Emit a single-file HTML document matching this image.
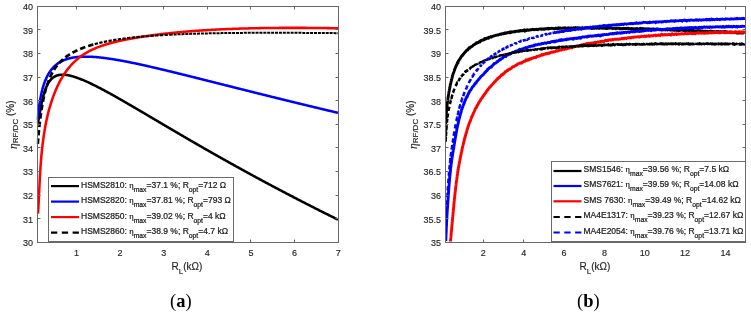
<!DOCTYPE html>
<html><head><meta charset="utf-8"><style>
html,body{margin:0;padding:0;background:#fff;width:751px;height:313px;overflow:hidden}
svg{display:block}
</style></head><body>
<svg width="751" height="313" viewBox="0 0 751 313">
<defs>
<clipPath id="ca"><rect x="36.5" y="6" width="302.5" height="237"/></clipPath>
<clipPath id="cb"><rect x="445" y="6" width="301" height="237"/></clipPath>
</defs>
<rect width="751" height="313" fill="#fff"/>
<!-- plot a -->
<g fill="none" stroke-linejoin="round" clip-path="url(#ca)">
<path d="M37.60,123.08 L37.83,122.51 L38.02,121.92 L38.17,121.32 L38.32,120.72 L38.45,120.11 L38.58,119.51 L38.70,118.90 L38.82,118.29 L38.94,117.68 L39.05,117.07 L39.16,116.46 L39.27,115.85 L39.38,115.24 L39.49,114.63 L39.60,114.02 L39.71,113.41 L39.82,112.80 L39.93,112.19 L40.04,111.58 L40.14,110.97 L40.25,110.36 L40.36,109.75 L40.47,109.15 L40.59,108.54 L40.70,107.93 L40.81,107.32 L40.93,106.71 L41.04,106.10 L41.16,105.49 L41.28,104.88 L41.40,104.28 L41.52,103.67 L41.65,103.06 L41.77,102.46 L41.90,101.85 L42.03,101.24 L42.17,100.64 L42.30,100.03 L42.44,99.43 L42.58,98.83 L42.73,98.23 L42.88,97.62 L43.03,97.02 L43.19,96.42 L43.35,95.83 L43.51,95.23 L43.68,94.63 L43.85,94.04 L44.03,93.44 L44.21,92.85 L44.40,92.26 L44.59,91.67 L44.79,91.08 L44.99,90.50 L45.20,89.91 L45.41,89.33 L45.63,88.75 L45.86,88.18 L46.10,87.61 L46.34,87.04 L46.59,86.47 L46.85,85.91 L47.12,85.35 L47.40,84.79 L47.68,84.25 L47.98,83.70 L48.29,83.17 L48.61,82.64 L48.95,82.11 L49.29,81.60 L49.65,81.10 L50.03,80.61 L50.42,80.12 L50.83,79.66 L51.25,79.20 L51.69,78.77 L52.14,78.34 L52.61,77.94 L53.10,77.56 L53.60,77.20 L54.12,76.86 L54.66,76.54 L55.20,76.25 L55.76,75.99 L56.33,75.75 L56.91,75.53 L57.50,75.34 L58.10,75.18 L58.71,75.04 L59.31,74.92 L59.93,74.83 L60.54,74.76 L61.16,74.71 L61.78,74.68 L62.40,74.67 L63.02,74.67 L63.64,74.69 L64.25,74.73 L64.87,74.78 L65.49,74.84 L66.10,74.92 L66.72,75.01 L67.33,75.11 L67.94,75.22 L68.55,75.34 L69.15,75.46 L69.76,75.60 L70.36,75.74 L70.96,75.90 L71.56,76.05 L72.16,76.22 L72.75,76.39 L73.35,76.56 L73.94,76.75 L74.53,76.93 L75.12,77.12 L75.71,77.32 L76.29,77.52 L76.88,77.72 L77.46,77.93 L78.04,78.14 L78.63,78.35 L79.21,78.57 L79.78,78.79 L80.36,79.02 L80.94,79.24 L81.51,79.47 L82.09,79.71 L82.66,79.94 L83.23,80.18 L83.80,80.42 L84.37,80.66 L84.94,80.91 L85.51,81.15 L86.08,81.40 L86.64,81.66 L87.21,81.91 L87.77,82.17 L88.34,82.42 L88.90,82.68 L89.46,82.94 L90.02,83.21 L90.58,83.47 L91.14,83.74 L91.70,84.00 L92.26,84.27 L92.82,84.54 L93.37,84.81 L93.93,85.09 L94.49,85.36 L95.04,85.64 L95.59,85.92 L96.15,86.19 L96.70,86.47 L97.25,86.75 L97.81,87.03 L98.36,87.32 L98.91,87.60 L99.46,87.89 L100.01,88.17 L100.56,88.46 L101.11,88.75 L101.65,89.03 L102.20,89.32 L102.75,89.61 L103.30,89.90 L103.84,90.20 L104.39,90.49 L104.94,90.78 L105.48,91.08 L106.03,91.37 L106.57,91.67 L107.11,91.96 L107.66,92.26 L108.20,92.55 L108.75,92.85 L109.29,93.15 L109.83,93.45 L110.37,93.75 L110.92,94.05 L111.46,94.35 L112.00,94.65 L112.54,94.95 L113.08,95.26 L113.62,95.56 L114.16,95.86 L114.70,96.16 L115.24,96.47 L115.78,96.77 L116.32,97.08 L116.86,97.38 L117.40,97.69 L117.94,97.99 L118.48,98.30 L119.01,98.61 L119.55,98.91 L120.09,99.22 L120.63,99.53 L121.17,99.84 L121.70,100.14 L122.24,100.45 L122.78,100.76 L123.32,101.07 L123.85,101.38 L124.39,101.69 L124.93,102.00 L125.46,102.31 L126.00,102.62 L126.53,102.93 L127.07,103.24 L127.61,103.55 L128.14,103.86 L128.68,104.17 L129.21,104.48 L129.75,104.80 L130.28,105.11 L130.82,105.42 L131.35,105.73 L131.89,106.04 L132.42,106.36 L132.96,106.67 L133.49,106.98 L134.03,107.30 L134.56,107.61 L135.10,107.92 L135.63,108.24 L136.17,108.55 L136.70,108.86 L137.24,109.18 L137.77,109.49 L138.30,109.80 L138.84,110.12 L139.37,110.43 L139.91,110.75 L140.44,111.06 L140.97,111.37 L141.51,111.69 L142.04,112.00 L142.58,112.32 L143.11,112.63 L143.64,112.95 L144.18,113.26 L144.71,113.58 L145.24,113.89 L145.78,114.21 L146.31,114.52 L146.84,114.84 L147.38,115.15 L147.91,115.47 L148.45,115.78 L148.98,116.10 L149.51,116.41 L150.05,116.73 L150.58,117.04 L151.11,117.36 L151.65,117.67 L152.18,117.99 L152.71,118.30 L153.25,118.62 L153.78,118.93 L154.31,119.25 L154.85,119.56 L155.38,119.88 L155.91,120.19 L156.45,120.51 L156.98,120.82 L157.51,121.14 L158.05,121.45 L158.58,121.77 L159.11,122.08 L159.65,122.40 L160.18,122.71 L160.72,123.03 L161.25,123.34 L161.78,123.66 L162.32,123.97 L162.85,124.28 L163.38,124.60 L163.92,124.91 L164.45,125.23 L164.98,125.54 L165.52,125.86 L166.05,126.17 L166.59,126.49 L167.12,126.80 L167.65,127.12 L168.19,127.43 L168.72,127.74 L169.26,128.06 L169.79,128.37 L170.32,128.69 L170.86,129.00 L171.39,129.31 L171.93,129.63 L172.46,129.94 L172.99,130.26 L173.53,130.57 L174.06,130.88 L174.60,131.20 L175.13,131.51 L175.67,131.82 L176.20,132.14 L176.74,132.45 L177.27,132.76 L177.80,133.07 L178.34,133.39 L178.87,133.70 L179.41,134.01 L179.94,134.33 L180.48,134.64 L181.01,134.95 L181.55,135.26 L182.08,135.58 L182.62,135.89 L183.15,136.20 L183.69,136.51 L184.22,136.82 L184.76,137.14 L185.30,137.45 L185.83,137.76 L186.37,138.07 L186.90,138.38 L187.44,138.69 L187.97,139.01 L188.51,139.32 L189.04,139.63 L189.58,139.94 L190.12,140.25 L190.65,140.56 L191.19,140.87 L191.72,141.18 L192.26,141.49 L192.80,141.80 L193.33,142.11 L193.87,142.42 L194.41,142.73 L194.94,143.04 L195.48,143.35 L196.02,143.66 L196.55,143.97 L197.09,144.28 L197.63,144.59 L198.16,144.90 L198.70,145.21 L199.24,145.52 L199.77,145.83 L200.31,146.14 L200.85,146.44 L201.38,146.75 L201.92,147.06 L202.46,147.37 L203.00,147.68 L203.53,147.99 L204.07,148.29 L204.61,148.60 L205.15,148.91 L205.68,149.22 L206.22,149.53 L206.76,149.83 L207.30,150.14 L207.84,150.45 L208.37,150.75 L208.91,151.06 L209.45,151.37 L209.99,151.67 L210.53,151.98 L211.07,152.29 L211.60,152.59 L212.14,152.90 L212.68,153.21 L213.22,153.51 L213.76,153.82 L214.30,154.12 L214.84,154.43 L215.38,154.73 L215.92,155.04 L216.45,155.34 L216.99,155.65 L217.53,155.95 L218.07,156.26 L218.61,156.56 L219.15,156.87 L219.69,157.17 L220.23,157.48 L220.77,157.78 L221.31,158.09 L221.85,158.39 L222.39,158.69 L222.93,159.00 L223.47,159.30 L224.01,159.60 L224.55,159.91 L225.09,160.21 L225.63,160.51 L226.17,160.82 L226.71,161.12 L227.25,161.42 L227.79,161.72 L228.34,162.03 L228.88,162.33 L229.42,162.63 L229.96,162.93 L230.50,163.23 L231.04,163.53 L231.58,163.84 L232.12,164.14 L232.66,164.44 L233.21,164.74 L233.75,165.04 L234.29,165.34 L234.83,165.64 L235.37,165.94 L235.91,166.24 L236.46,166.54 L237.00,166.84 L237.54,167.14 L238.08,167.44 L238.63,167.74 L239.17,168.04 L239.71,168.34 L240.25,168.64 L240.79,168.94 L241.34,169.24 L241.88,169.54 L242.42,169.84 L242.97,170.14 L243.51,170.43 L244.05,170.73 L244.59,171.03 L245.14,171.33 L245.68,171.63 L246.22,171.92 L246.77,172.22 L247.31,172.52 L247.85,172.82 L248.40,173.11 L248.94,173.41 L249.49,173.71 L250.03,174.00 L250.57,174.30 L251.12,174.60 L251.66,174.89 L252.21,175.19 L252.75,175.49 L253.29,175.78 L253.84,176.08 L254.38,176.37 L254.93,176.67 L255.47,176.96 L256.02,177.26 L256.56,177.55 L257.11,177.85 L257.65,178.14 L258.20,178.44 L258.74,178.73 L259.29,179.03 L259.83,179.32 L260.38,179.62 L260.92,179.91 L261.47,180.20 L262.01,180.50 L262.56,180.79 L263.10,181.08 L263.65,181.38 L264.20,181.67 L264.74,181.96 L265.29,182.26 L265.83,182.55 L266.38,182.84 L266.93,183.13 L267.47,183.43 L268.02,183.72 L268.57,184.01 L269.11,184.30 L269.66,184.59 L270.21,184.89 L270.75,185.18 L271.30,185.47 L271.85,185.76 L272.39,186.05 L272.94,186.34 L273.49,186.63 L274.03,186.92 L274.58,187.21 L275.13,187.50 L275.68,187.79 L276.22,188.08 L276.77,188.37 L277.32,188.66 L277.87,188.95 L278.41,189.24 L278.96,189.53 L279.51,189.82 L280.06,190.11 L280.61,190.40 L281.15,190.69 L281.70,190.98 L282.25,191.26 L282.80,191.55 L283.35,191.84 L283.90,192.13 L284.44,192.42 L284.99,192.70 L285.54,192.99 L286.09,193.28 L286.64,193.57 L287.19,193.85 L287.74,194.14 L288.29,194.43 L288.84,194.72 L289.39,195.00 L289.93,195.29 L290.48,195.57 L291.03,195.86 L291.58,196.15 L292.13,196.43 L292.68,196.72 L293.23,197.00 L293.78,197.29 L294.33,197.57 L294.88,197.86 L295.43,198.15 L295.98,198.43 L296.53,198.71 L297.08,199.00 L297.63,199.28 L298.18,199.57 L298.73,199.85 L299.28,200.14 L299.84,200.42 L300.39,200.70 L300.94,200.99 L301.49,201.27 L302.04,201.56 L302.59,201.84 L303.14,202.12 L303.69,202.40 L304.24,202.69 L304.79,202.97 L305.35,203.25 L305.90,203.53 L306.45,203.82 L307.00,204.10 L307.55,204.38 L308.10,204.66 L308.66,204.94 L309.21,205.23 L309.76,205.51 L310.31,205.79 L310.86,206.07 L311.42,206.35 L311.97,206.63 L312.52,206.91 L313.07,207.19 L313.62,207.47 L314.18,207.75 L314.73,208.03 L315.28,208.31 L315.84,208.59 L316.39,208.87 L316.94,209.15 L317.49,209.43 L318.05,209.71 L318.60,209.99 L319.15,210.27 L319.71,210.55 L320.26,210.83 L320.81,211.11 L321.37,211.39 L321.92,211.66 L322.47,211.94 L323.03,212.22 L323.58,212.50 L324.13,212.78 L324.69,213.05 L325.24,213.33 L325.80,213.61 L326.35,213.89 L326.90,214.16 L327.46,214.44 L328.01,214.72 L328.57,214.99 L329.12,215.27 L329.68,215.55 L330.23,215.82 L330.78,216.10 L331.34,216.38 L331.89,216.65 L332.45,216.93 L333.00,217.20 L333.56,217.48 L334.11,217.75 L334.67,218.03 L335.22,218.31 L335.78,218.58 L336.33,218.85 L336.89,219.13 L337.44,219.40 L338.00,219.68" stroke="#000" stroke-width="2.55"/>
<path d="M37.60,119.89 L37.65,119.31 L37.71,118.73 L37.76,118.15 L37.82,117.57 L37.88,116.99 L37.94,116.41 L38.00,115.83 L38.06,115.25 L38.12,114.66 L38.18,114.08 L38.25,113.50 L38.31,112.92 L38.38,112.34 L38.44,111.76 L38.51,111.18 L38.58,110.61 L38.65,110.03 L38.72,109.45 L38.80,108.87 L38.87,108.29 L38.95,107.71 L39.03,107.13 L39.11,106.55 L39.19,105.98 L39.27,105.40 L39.35,104.82 L39.44,104.24 L39.53,103.67 L39.62,103.09 L39.71,102.51 L39.80,101.94 L39.89,101.36 L39.99,100.78 L40.09,100.21 L40.19,99.63 L40.29,99.06 L40.40,98.48 L40.50,97.91 L40.61,97.34 L40.72,96.76 L40.84,96.19 L40.95,95.62 L41.07,95.05 L41.19,94.48 L41.31,93.91 L41.44,93.34 L41.57,92.77 L41.70,92.20 L41.84,91.63 L41.98,91.06 L42.12,90.50 L42.26,89.93 L42.41,89.37 L42.56,88.80 L42.71,88.24 L42.87,87.68 L43.03,87.12 L43.20,86.56 L43.37,86.00 L43.54,85.44 L43.72,84.89 L43.90,84.33 L44.09,83.78 L44.28,83.23 L44.47,82.68 L44.67,82.13 L44.88,81.58 L45.09,81.04 L45.30,80.49 L45.52,79.95 L45.75,79.42 L45.98,78.88 L46.22,78.35 L46.46,77.82 L46.71,77.29 L46.97,76.76 L47.23,76.24 L47.50,75.72 L47.77,75.21 L48.05,74.70 L48.34,74.19 L48.63,73.68 L48.94,73.18 L49.24,72.69 L49.56,72.20 L49.88,71.71 L50.21,71.23 L50.55,70.76 L50.90,70.29 L51.25,69.82 L51.62,69.36 L51.98,68.91 L52.36,68.47 L52.75,68.03 L53.14,67.60 L53.54,67.17 L53.95,66.76 L54.37,66.35 L54.79,65.95 L55.23,65.56 L55.67,65.17 L56.11,64.80 L56.57,64.43 L57.03,64.08 L57.50,63.73 L57.98,63.39 L58.46,63.06 L58.95,62.74 L59.44,62.43 L59.94,62.13 L60.45,61.84 L60.96,61.56 L61.48,61.29 L62.00,61.03 L62.52,60.78 L63.06,60.53 L63.59,60.30 L64.13,60.07 L64.67,59.86 L65.22,59.65 L65.77,59.45 L66.32,59.26 L66.87,59.08 L67.43,58.91 L67.99,58.75 L68.55,58.59 L69.12,58.44 L69.68,58.30 L70.25,58.16 L70.82,58.04 L71.39,57.91 L71.96,57.80 L72.54,57.69 L73.11,57.59 L73.69,57.50 L74.27,57.41 L74.84,57.32 L75.42,57.25 L76.00,57.18 L76.58,57.11 L77.16,57.05 L77.74,56.99 L78.32,56.94 L78.91,56.89 L79.49,56.85 L80.07,56.81 L80.65,56.78 L81.24,56.75 L81.82,56.72 L82.40,56.70 L82.99,56.68 L83.57,56.67 L84.15,56.66 L84.74,56.65 L85.32,56.65 L85.90,56.65 L86.49,56.65 L87.07,56.66 L87.66,56.67 L88.24,56.68 L88.82,56.70 L89.41,56.72 L89.99,56.74 L90.57,56.76 L91.16,56.79 L91.74,56.82 L92.32,56.85 L92.90,56.88 L93.49,56.92 L94.07,56.96 L94.65,57.00 L95.23,57.05 L95.81,57.09 L96.40,57.14 L96.98,57.19 L97.56,57.24 L98.14,57.30 L98.72,57.35 L99.30,57.41 L99.88,57.47 L100.46,57.53 L101.04,57.59 L101.62,57.66 L102.20,57.73 L102.78,57.79 L103.36,57.86 L103.94,57.93 L104.52,58.01 L105.10,58.08 L105.68,58.16 L106.26,58.23 L106.84,58.31 L107.41,58.39 L107.99,58.47 L108.57,58.56 L109.15,58.64 L109.73,58.73 L110.30,58.81 L110.88,58.90 L111.46,58.99 L112.03,59.08 L112.61,59.17 L113.19,59.26 L113.76,59.35 L114.34,59.45 L114.91,59.54 L115.49,59.64 L116.07,59.73 L116.64,59.83 L117.22,59.93 L117.79,60.03 L118.37,60.13 L118.94,60.23 L119.52,60.33 L120.09,60.44 L120.67,60.54 L121.24,60.65 L121.81,60.75 L122.39,60.86 L122.96,60.96 L123.54,61.07 L124.11,61.18 L124.68,61.29 L125.26,61.40 L125.83,61.51 L126.40,61.62 L126.97,61.73 L127.55,61.85 L128.12,61.96 L128.69,62.07 L129.26,62.19 L129.84,62.30 L130.41,62.42 L130.98,62.53 L131.55,62.65 L132.13,62.77 L132.70,62.89 L133.27,63.00 L133.84,63.12 L134.41,63.24 L134.98,63.36 L135.55,63.48 L136.12,63.60 L136.70,63.72 L137.27,63.85 L137.84,63.97 L138.41,64.09 L138.98,64.21 L139.55,64.34 L140.12,64.46 L140.69,64.58 L141.26,64.71 L141.83,64.83 L142.40,64.96 L142.97,65.08 L143.54,65.21 L144.11,65.34 L144.68,65.46 L145.25,65.59 L145.82,65.72 L146.39,65.85 L146.96,65.98 L147.53,66.10 L148.10,66.23 L148.67,66.36 L149.24,66.49 L149.80,66.62 L150.37,66.75 L150.94,66.88 L151.51,67.01 L152.08,67.14 L152.65,67.27 L153.22,67.41 L153.79,67.54 L154.35,67.67 L154.92,67.80 L155.49,67.93 L156.06,68.07 L156.63,68.20 L157.20,68.33 L157.77,68.47 L158.33,68.60 L158.90,68.73 L159.47,68.87 L160.04,69.00 L160.61,69.14 L161.17,69.27 L161.74,69.41 L162.31,69.54 L162.88,69.68 L163.45,69.81 L164.01,69.95 L164.58,70.08 L165.15,70.22 L165.72,70.36 L166.28,70.49 L166.85,70.63 L167.42,70.77 L167.99,70.90 L168.55,71.04 L169.12,71.18 L169.69,71.31 L170.26,71.45 L170.82,71.59 L171.39,71.73 L171.96,71.86 L172.52,72.00 L173.09,72.14 L173.66,72.28 L174.23,72.42 L174.79,72.56 L175.36,72.69 L175.93,72.83 L176.49,72.97 L177.06,73.11 L177.63,73.25 L178.19,73.39 L178.76,73.53 L179.33,73.67 L179.89,73.81 L180.46,73.95 L181.03,74.09 L181.59,74.23 L182.16,74.37 L182.73,74.51 L183.29,74.65 L183.86,74.79 L184.43,74.93 L184.99,75.07 L185.56,75.21 L186.13,75.35 L186.69,75.49 L187.26,75.63 L187.83,75.77 L188.39,75.91 L188.96,76.05 L189.53,76.19 L190.09,76.34 L190.66,76.48 L191.23,76.62 L191.79,76.76 L192.36,76.90 L192.92,77.04 L193.49,77.18 L194.06,77.32 L194.62,77.47 L195.19,77.61 L195.76,77.75 L196.32,77.89 L196.89,78.03 L197.45,78.17 L198.02,78.32 L198.59,78.46 L199.15,78.60 L199.72,78.74 L200.29,78.88 L200.85,79.03 L201.42,79.17 L201.98,79.31 L202.55,79.45 L203.12,79.59 L203.68,79.74 L204.25,79.88 L204.81,80.02 L205.38,80.16 L205.95,80.31 L206.51,80.45 L207.08,80.59 L207.64,80.73 L208.21,80.87 L208.78,81.02 L209.34,81.16 L209.91,81.30 L210.48,81.44 L211.04,81.59 L211.61,81.73 L212.17,81.87 L212.74,82.01 L213.31,82.16 L213.87,82.30 L214.44,82.44 L215.00,82.58 L215.57,82.73 L216.14,82.87 L216.70,83.01 L217.27,83.15 L217.83,83.30 L218.40,83.44 L218.97,83.58 L219.53,83.72 L220.10,83.87 L220.66,84.01 L221.23,84.15 L221.80,84.29 L222.36,84.44 L222.93,84.58 L223.49,84.72 L224.06,84.87 L224.63,85.01 L225.19,85.15 L225.76,85.29 L226.32,85.44 L226.89,85.58 L227.46,85.72 L228.02,85.86 L228.59,86.01 L229.15,86.15 L229.72,86.29 L230.29,86.43 L230.85,86.58 L231.42,86.72 L231.98,86.86 L232.55,87.00 L233.12,87.14 L233.68,87.29 L234.25,87.43 L234.81,87.57 L235.38,87.71 L235.95,87.86 L236.51,88.00 L237.08,88.14 L237.65,88.28 L238.21,88.43 L238.78,88.57 L239.34,88.71 L239.91,88.85 L240.48,88.99 L241.04,89.14 L241.61,89.28 L242.17,89.42 L242.74,89.56 L243.31,89.70 L243.87,89.85 L244.44,89.99 L245.01,90.13 L245.57,90.27 L246.14,90.41 L246.70,90.56 L247.27,90.70 L247.84,90.84 L248.40,90.98 L248.97,91.12 L249.53,91.27 L250.10,91.41 L250.67,91.55 L251.23,91.69 L251.80,91.83 L252.37,91.97 L252.93,92.11 L253.50,92.26 L254.07,92.40 L254.63,92.54 L255.20,92.68 L255.76,92.82 L256.33,92.96 L256.90,93.10 L257.46,93.25 L258.03,93.39 L258.60,93.53 L259.16,93.67 L259.73,93.81 L260.29,93.95 L260.86,94.09 L261.43,94.23 L261.99,94.37 L262.56,94.52 L263.13,94.66 L263.69,94.80 L264.26,94.94 L264.83,95.08 L265.39,95.22 L265.96,95.36 L266.53,95.50 L267.09,95.64 L267.66,95.78 L268.23,95.92 L268.79,96.06 L269.36,96.20 L269.93,96.34 L270.49,96.48 L271.06,96.62 L271.62,96.77 L272.19,96.91 L272.76,97.05 L273.32,97.19 L273.89,97.33 L274.46,97.47 L275.02,97.61 L275.59,97.75 L276.16,97.89 L276.72,98.03 L277.29,98.17 L277.86,98.31 L278.42,98.45 L278.99,98.58 L279.56,98.72 L280.13,98.86 L280.69,99.00 L281.26,99.14 L281.83,99.28 L282.39,99.42 L282.96,99.56 L283.53,99.70 L284.09,99.84 L284.66,99.98 L285.23,100.12 L285.79,100.26 L286.36,100.40 L286.93,100.54 L287.49,100.67 L288.06,100.81 L288.63,100.95 L289.20,101.09 L289.76,101.23 L290.33,101.37 L290.90,101.51 L291.46,101.65 L292.03,101.78 L292.60,101.92 L293.16,102.06 L293.73,102.20 L294.30,102.34 L294.87,102.48 L295.43,102.62 L296.00,102.75 L296.57,102.89 L297.13,103.03 L297.70,103.17 L298.27,103.31 L298.84,103.44 L299.40,103.58 L299.97,103.72 L300.54,103.86 L301.10,104.00 L301.67,104.13 L302.24,104.27 L302.81,104.41 L303.37,104.55 L303.94,104.68 L304.51,104.82 L305.07,104.96 L305.64,105.10 L306.21,105.23 L306.78,105.37 L307.34,105.51 L307.91,105.65 L308.48,105.78 L309.05,105.92 L309.61,106.06 L310.18,106.19 L310.75,106.33 L311.32,106.47 L311.88,106.60 L312.45,106.74 L313.02,106.88 L313.59,107.01 L314.15,107.15 L314.72,107.29 L315.29,107.42 L315.86,107.56 L316.42,107.70 L316.99,107.83 L317.56,107.97 L318.13,108.10 L318.69,108.24 L319.26,108.38 L319.83,108.51 L320.40,108.65 L320.96,108.79 L321.53,108.92 L322.10,109.06 L322.67,109.19 L323.23,109.33 L323.80,109.46 L324.37,109.60 L324.94,109.73 L325.51,109.87 L326.07,110.01 L326.64,110.14 L327.21,110.28 L327.78,110.41 L328.34,110.55 L328.91,110.68 L329.48,110.82 L330.05,110.95 L330.62,111.09 L331.18,111.22 L331.75,111.36 L332.32,111.49 L332.89,111.63 L333.46,111.76 L334.02,111.90 L334.59,112.03 L335.16,112.16 L335.73,112.30 L336.30,112.43 L336.86,112.57 L337.43,112.70 L338.00,112.84" stroke="#00f" stroke-width="2.55"/>
<path d="M38.00,213.59 L38.06,212.87 L38.11,212.16 L38.16,211.44 L38.20,210.73 L38.25,210.01 L38.29,209.30 L38.33,208.58 L38.37,207.87 L38.41,207.15 L38.45,206.43 L38.49,205.72 L38.52,205.00 L38.56,204.29 L38.60,203.57 L38.63,202.86 L38.67,202.14 L38.70,201.43 L38.74,200.71 L38.77,199.99 L38.81,199.28 L38.84,198.56 L38.87,197.85 L38.91,197.13 L38.94,196.42 L38.98,195.70 L39.01,194.98 L39.04,194.27 L39.08,193.55 L39.11,192.84 L39.15,192.12 L39.18,191.41 L39.21,190.69 L39.25,189.97 L39.28,189.26 L39.32,188.54 L39.35,187.83 L39.39,187.11 L39.42,186.40 L39.46,185.68 L39.49,184.96 L39.53,184.25 L39.56,183.53 L39.60,182.82 L39.64,182.10 L39.67,181.39 L39.71,180.67 L39.75,179.95 L39.79,179.24 L39.83,178.52 L39.86,177.81 L39.90,177.09 L39.94,176.38 L39.98,175.66 L40.02,174.95 L40.06,174.23 L40.11,173.52 L40.15,172.80 L40.19,172.09 L40.23,171.37 L40.28,170.66 L40.32,169.94 L40.37,169.23 L40.41,168.51 L40.46,167.80 L40.51,167.08 L40.56,166.37 L40.61,165.65 L40.66,164.94 L40.71,164.22 L40.76,163.51 L40.81,162.79 L40.87,162.08 L40.92,161.36 L40.98,160.65 L41.03,159.93 L41.09,159.22 L41.15,158.51 L41.21,157.79 L41.27,157.08 L41.34,156.36 L41.40,155.65 L41.47,154.94 L41.54,154.22 L41.61,153.51 L41.68,152.80 L41.75,152.09 L41.82,151.37 L41.90,150.66 L41.97,149.95 L42.05,149.23 L42.13,148.52 L42.21,147.81 L42.29,147.10 L42.37,146.39 L42.45,145.68 L42.54,144.96 L42.63,144.25 L42.71,143.54 L42.80,142.83 L42.89,142.12 L42.98,141.41 L43.08,140.70 L43.17,139.99 L43.27,139.28 L43.36,138.57 L43.46,137.86 L43.56,137.15 L43.66,136.44 L43.77,135.73 L43.87,135.02 L43.98,134.31 L44.09,133.61 L44.20,132.90 L44.31,132.19 L44.43,131.48 L44.54,130.78 L44.66,130.07 L44.78,129.36 L44.90,128.66 L45.02,127.95 L45.15,127.24 L45.28,126.54 L45.41,125.83 L45.54,125.13 L45.67,124.43 L45.81,123.72 L45.95,123.02 L46.09,122.32 L46.23,121.61 L46.37,120.91 L46.52,120.21 L46.67,119.51 L46.82,118.81 L46.98,118.11 L47.13,117.41 L47.29,116.71 L47.45,116.02 L47.62,115.32 L47.79,114.62 L47.96,113.93 L48.13,113.23 L48.30,112.54 L48.48,111.84 L48.66,111.15 L48.85,110.46 L49.03,109.76 L49.22,109.07 L49.41,108.38 L49.61,107.69 L49.81,107.00 L50.01,106.32 L50.21,105.63 L50.42,104.94 L50.63,104.26 L50.84,103.57 L51.05,102.89 L51.27,102.21 L51.49,101.53 L51.72,100.85 L51.94,100.17 L52.18,99.49 L52.41,98.81 L52.65,98.13 L52.89,97.46 L53.13,96.78 L53.37,96.11 L53.62,95.44 L53.88,94.77 L54.13,94.10 L54.39,93.43 L54.66,92.77 L54.92,92.10 L55.19,91.44 L55.47,90.78 L55.75,90.11 L56.03,89.46 L56.31,88.80 L56.60,88.14 L56.90,87.49 L57.19,86.84 L57.49,86.19 L57.80,85.54 L58.11,84.89 L58.42,84.25 L58.74,83.61 L59.07,82.97 L59.39,82.33 L59.72,81.70 L60.06,81.06 L60.40,80.43 L60.75,79.81 L61.10,79.18 L61.45,78.56 L61.81,77.94 L62.18,77.32 L62.55,76.71 L62.92,76.10 L63.30,75.49 L63.69,74.89 L64.08,74.29 L64.47,73.69 L64.88,73.09 L65.28,72.50 L65.69,71.92 L66.11,71.33 L66.53,70.76 L66.96,70.18 L67.39,69.61 L67.83,69.04 L68.28,68.48 L68.73,67.92 L69.18,67.37 L69.64,66.82 L70.11,66.28 L70.58,65.74 L71.06,65.20 L71.54,64.67 L72.03,64.15 L72.52,63.63 L73.02,63.12 L73.53,62.61 L74.04,62.11 L74.56,61.61 L75.08,61.12 L75.61,60.64 L76.14,60.16 L76.68,59.68 L77.22,59.22 L77.77,58.76 L78.32,58.30 L78.88,57.85 L79.45,57.41 L80.01,56.98 L80.59,56.55 L81.17,56.12 L81.75,55.71 L82.34,55.30 L82.93,54.90 L83.53,54.50 L84.13,54.11 L84.74,53.73 L85.35,53.35 L85.96,52.99 L86.58,52.62 L87.20,52.27 L87.83,51.92 L88.46,51.57 L89.09,51.24 L89.72,50.91 L90.36,50.58 L91.00,50.26 L91.65,49.95 L92.30,49.64 L92.95,49.34 L93.60,49.05 L94.25,48.76 L94.91,48.47 L95.57,48.19 L96.23,47.92 L96.90,47.65 L97.56,47.38 L98.23,47.12 L98.90,46.87 L99.57,46.62 L100.24,46.37 L100.92,46.13 L101.60,45.89 L102.27,45.66 L102.95,45.43 L103.63,45.21 L104.31,44.98 L105.00,44.77 L105.68,44.55 L106.36,44.34 L107.05,44.13 L107.74,43.93 L108.43,43.73 L109.11,43.53 L109.80,43.34 L110.49,43.15 L111.19,42.96 L111.88,42.78 L112.57,42.60 L113.27,42.42 L113.96,42.24 L114.66,42.07 L115.35,41.90 L116.05,41.73 L116.74,41.56 L117.44,41.40 L118.14,41.23 L118.84,41.08 L119.54,40.92 L120.24,40.76 L120.94,40.61 L121.64,40.46 L122.34,40.31 L123.04,40.16 L123.74,40.02 L124.44,39.87 L125.15,39.73 L125.85,39.59 L126.55,39.45 L127.25,39.32 L127.96,39.18 L128.66,39.05 L129.37,38.92 L130.07,38.79 L130.78,38.66 L131.48,38.53 L132.19,38.40 L132.89,38.28 L133.60,38.15 L134.30,38.03 L135.01,37.91 L135.72,37.79 L136.42,37.67 L137.13,37.55 L137.84,37.44 L138.54,37.32 L139.25,37.21 L139.96,37.09 L140.67,36.98 L141.37,36.87 L142.08,36.76 L142.79,36.65 L143.50,36.54 L144.21,36.44 L144.92,36.33 L145.62,36.22 L146.33,36.12 L147.04,36.02 L147.75,35.91 L148.46,35.81 L149.17,35.71 L149.88,35.61 L150.59,35.51 L151.30,35.41 L152.01,35.32 L152.72,35.22 L153.43,35.12 L154.14,35.03 L154.85,34.94 L155.56,34.84 L156.27,34.75 L156.98,34.66 L157.69,34.57 L158.40,34.48 L159.11,34.39 L159.83,34.31 L160.54,34.22 L161.25,34.13 L161.96,34.05 L162.67,33.96 L163.38,33.88 L164.09,33.80 L164.81,33.71 L165.52,33.63 L166.23,33.55 L166.94,33.47 L167.65,33.40 L168.37,33.32 L169.08,33.24 L169.79,33.16 L170.50,33.09 L171.22,33.01 L171.93,32.94 L172.64,32.87 L173.35,32.79 L174.07,32.72 L174.78,32.65 L175.49,32.58 L176.21,32.51 L176.92,32.44 L177.63,32.37 L178.35,32.30 L179.06,32.24 L179.77,32.17 L180.49,32.10 L181.20,32.04 L181.91,31.98 L182.63,31.91 L183.34,31.85 L184.06,31.79 L184.77,31.72 L185.48,31.66 L186.20,31.60 L186.91,31.54 L187.62,31.48 L188.34,31.43 L189.05,31.37 L189.77,31.31 L190.48,31.25 L191.20,31.20 L191.91,31.14 L192.62,31.09 L193.34,31.03 L194.05,30.98 L194.77,30.93 L195.48,30.88 L196.20,30.82 L196.91,30.77 L197.63,30.72 L198.34,30.67 L199.06,30.62 L199.77,30.57 L200.49,30.52 L201.20,30.48 L201.92,30.43 L202.63,30.38 L203.35,30.34 L204.06,30.29 L204.78,30.25 L205.49,30.20 L206.21,30.16 L206.92,30.11 L207.64,30.07 L208.35,30.03 L209.07,29.99 L209.78,29.94 L210.50,29.90 L211.21,29.86 L211.93,29.82 L212.64,29.78 L213.36,29.74 L214.08,29.71 L214.79,29.67 L215.51,29.63 L216.22,29.59 L216.94,29.56 L217.65,29.52 L218.37,29.49 L219.08,29.45 L219.80,29.42 L220.52,29.38 L221.23,29.35 L221.95,29.31 L222.66,29.28 L223.38,29.25 L224.09,29.22 L224.81,29.19 L225.53,29.16 L226.24,29.12 L226.96,29.09 L227.67,29.06 L228.39,29.04 L229.11,29.01 L229.82,28.98 L230.54,28.95 L231.25,28.92 L231.97,28.89 L232.69,28.87 L233.40,28.84 L234.12,28.82 L234.83,28.79 L235.55,28.76 L236.27,28.74 L236.98,28.72 L237.70,28.69 L238.41,28.67 L239.13,28.64 L239.85,28.62 L240.56,28.60 L241.28,28.58 L242.00,28.56 L242.71,28.53 L243.43,28.51 L244.14,28.49 L244.86,28.47 L245.58,28.45 L246.29,28.43 L247.01,28.41 L247.73,28.40 L248.44,28.38 L249.16,28.36 L249.87,28.34 L250.59,28.32 L251.31,28.31 L252.02,28.29 L252.74,28.27 L253.46,28.26 L254.17,28.24 L254.89,28.23 L255.61,28.21 L256.32,28.20 L257.04,28.18 L257.75,28.17 L258.47,28.16 L259.19,28.14 L259.90,28.13 L260.62,28.12 L261.34,28.10 L262.05,28.09 L262.77,28.08 L263.49,28.07 L264.20,28.06 L264.92,28.05 L265.63,28.04 L266.35,28.03 L267.07,28.02 L267.78,28.01 L268.50,28.00 L269.22,27.99 L269.93,27.98 L270.65,27.97 L271.37,27.96 L272.08,27.96 L272.80,27.95 L273.52,27.94 L274.23,27.93 L274.95,27.93 L275.67,27.92 L276.38,27.91 L277.10,27.91 L277.82,27.90 L278.53,27.90 L279.25,27.89 L279.96,27.89 L280.68,27.88 L281.40,27.88 L282.11,27.88 L282.83,27.87 L283.55,27.87 L284.26,27.87 L284.98,27.86 L285.70,27.86 L286.41,27.86 L287.13,27.86 L287.85,27.85 L288.56,27.85 L289.28,27.85 L290.00,27.85 L290.71,27.85 L291.43,27.85 L292.15,27.85 L292.86,27.85 L293.58,27.85 L294.29,27.85 L295.01,27.85 L295.73,27.85 L296.44,27.85 L297.16,27.85 L297.88,27.85 L298.59,27.86 L299.31,27.86 L300.03,27.86 L300.74,27.86 L301.46,27.87 L302.18,27.87 L302.89,27.87 L303.61,27.88 L304.33,27.88 L305.04,27.88 L305.76,27.89 L306.48,27.89 L307.19,27.90 L307.91,27.90 L308.63,27.91 L309.34,27.91 L310.06,27.92 L310.77,27.92 L311.49,27.93 L312.21,27.93 L312.92,27.94 L313.64,27.95 L314.36,27.95 L315.07,27.96 L315.79,27.97 L316.51,27.97 L317.22,27.98 L317.94,27.99 L318.66,28.00 L319.37,28.00 L320.09,28.01 L320.81,28.02 L321.52,28.03 L322.24,28.04 L322.95,28.05 L323.67,28.06 L324.39,28.07 L325.10,28.08 L325.82,28.09 L326.54,28.10 L327.25,28.11 L327.97,28.12 L328.69,28.13 L329.40,28.14 L330.12,28.15 L330.84,28.16 L331.55,28.17 L332.27,28.18 L332.99,28.19 L333.70,28.21 L334.42,28.22 L335.13,28.23 L335.85,28.24 L336.57,28.25 L337.28,28.27 L338.00,28.28" stroke="#f00" stroke-width="2.55"/>
<path d="M37.80,143.95 L37.83,143.54 L37.86,143.13 L37.89,142.72 L37.93,142.30 L37.96,141.89 L37.99,141.48 L38.02,141.07 L38.06,140.66 L38.09,140.25 L38.12,139.84 L38.16,139.43 L38.19,139.02 L38.22,138.61 L38.26,138.20 L38.29,137.79 L38.33,137.38 L38.36,136.97 L38.40,136.56 L38.43,136.15 L38.47,135.74 L38.51,135.33 L38.54,134.92 L38.58,134.52 L38.62,134.11 L38.66,133.70 L38.69,133.29 L38.73,132.88 L38.77,132.47 L38.81,132.06 L38.85,131.65 L38.89,131.24 L38.93,130.83 L38.97,130.42 L39.01,130.01 L39.05,129.60 L39.09,129.19 L39.13,128.78 L39.17,128.37 L39.21,127.96 L39.26,127.55 L39.30,127.14 L39.34,126.73 L39.38,126.33 L39.43,125.92 L39.47,125.51 L39.52,125.10 L39.56,124.69 L39.61,124.28 L39.65,123.87 L39.70,123.46 L39.75,123.05 L39.79,122.65 L39.84,122.24 L39.89,121.83 L39.94,121.42 L39.99,121.01 L40.03,120.60 L40.08,120.19 L40.13,119.79 L40.18,119.38 L40.23,118.97 L40.29,118.56 L40.34,118.15 L40.39,117.74 L40.44,117.34 L40.50,116.93 L40.55,116.52 L40.60,116.11 L40.66,115.70 L40.71,115.30 L40.77,114.89 L40.83,114.48 L40.88,114.07 L40.94,113.67 L41.00,113.26 L41.06,112.85 L41.12,112.44 L41.18,112.04 L41.24,111.63 L41.30,111.22 L41.36,110.82 L41.42,110.41 L41.48,110.00 L41.55,109.60 L41.61,109.19 L41.67,108.78 L41.74,108.38 L41.81,107.97 L41.87,107.57 L41.94,107.16 L42.01,106.75 L42.08,106.35 L42.14,105.94 L42.21,105.54 L42.29,105.13 L42.36,104.73 L42.43,104.32 L42.50,103.92 L42.58,103.51 L42.65,103.11 L42.73,102.70 L42.80,102.30 L42.88,101.89 L42.96,101.49 L43.04,101.09 L43.12,100.68 L43.20,100.28 L43.28,99.88 L43.36,99.47 L43.44,99.07 L43.53,98.67 L43.61,98.26 L43.70,97.86 L43.79,97.46 L43.87,97.06 L43.96,96.66 L44.05,96.26 L44.14,95.85 L44.24,95.45 L44.33,95.05 L44.42,94.65 L44.52,94.25 L44.61,93.85 L44.71,93.45 L44.81,93.05 L44.91,92.65 L45.01,92.25 L45.11,91.86 L45.22,91.46 L45.32,91.06 L45.43,90.66 L45.54,90.27 L45.64,89.87 L45.75,89.47 L45.87,89.08 L45.98,88.68 L46.09,88.28 L46.21,87.89 L46.33,87.50 L46.44,87.10 L46.56,86.71 L46.69,86.32 L46.81,85.92 L46.93,85.53 L47.06,85.14 L47.19,84.75 L47.32,84.36 L47.45,83.97 L47.58,83.58 L47.72,83.19 L47.85,82.80 L47.99,82.41 L48.13,82.03 L48.28,81.64 L48.42,81.26 L48.57,80.87 L48.71,80.49 L48.86,80.10 L49.02,79.72 L49.17,79.34 L49.33,78.96 L49.49,78.58 L49.65,78.20 L49.81,77.82 L49.97,77.45 L50.14,77.07 L50.31,76.70 L50.48,76.32 L50.66,75.95 L50.84,75.58 L51.02,75.21 L51.20,74.84 L51.38,74.47 L51.57,74.11 L51.76,73.74 L51.95,73.38 L52.15,73.01 L52.34,72.65 L52.54,72.29 L52.75,71.94 L52.95,71.58 L53.16,71.23 L53.37,70.87 L53.59,70.52 L53.80,70.17 L54.02,69.82 L54.24,69.48 L54.47,69.13 L54.70,68.79 L54.93,68.45 L55.16,68.11 L55.40,67.77 L55.63,67.44 L55.88,67.10 L56.12,66.77 L56.37,66.44 L56.62,66.12 L56.87,65.79 L57.13,65.47 L57.39,65.15 L57.65,64.83 L57.91,64.52 L58.18,64.20 L58.45,63.89 L58.72,63.59 L59.00,63.28 L59.27,62.98 L59.55,62.67 L59.84,62.38 L60.12,62.08 L60.41,61.79 L60.70,61.49 L60.99,61.21 L61.29,60.92 L61.59,60.64 L61.89,60.36 L62.19,60.08 L62.50,59.80 L62.80,59.53 L63.11,59.26 L63.43,58.99 L63.74,58.72 L64.06,58.46 L64.37,58.20 L64.70,57.94 L65.02,57.69 L65.34,57.43 L65.67,57.18 L66.00,56.94 L66.33,56.69 L66.66,56.45 L66.99,56.21 L67.33,55.97 L67.67,55.74 L68.01,55.50 L68.35,55.27 L68.69,55.05 L69.04,54.82 L69.38,54.60 L69.73,54.38 L70.08,54.16 L70.43,53.95 L70.78,53.73 L71.14,53.52 L71.49,53.31 L71.85,53.11 L72.20,52.90 L72.56,52.70 L72.92,52.50 L73.28,52.31 L73.65,52.11 L74.01,51.92 L74.37,51.73 L74.74,51.54 L75.11,51.35 L75.47,51.17 L75.84,50.99 L76.21,50.80 L76.58,50.63 L76.96,50.45 L77.33,50.28 L77.70,50.10 L78.08,49.93 L78.45,49.76 L78.83,49.60 L79.20,49.43 L79.58,49.27 L79.96,49.11 L80.34,48.95 L80.72,48.79 L81.10,48.63 L81.48,48.48 L81.86,48.33 L82.25,48.17 L82.63,48.02 L83.01,47.88 L83.40,47.73 L83.78,47.58 L84.17,47.44 L84.55,47.30 L84.94,47.16 L85.33,47.02 L85.72,46.88 L86.10,46.75 L86.49,46.61 L86.88,46.48 L87.27,46.35 L87.66,46.22 L88.05,46.09 L88.45,45.96 L88.84,45.84 L89.23,45.71 L89.62,45.59 L90.01,45.47 L90.41,45.35 L90.80,45.23 L91.20,45.11 L91.59,44.99 L91.99,44.88 L92.38,44.76 L92.78,44.65 L93.17,44.54 L93.57,44.43 L93.96,44.32 L94.36,44.21 L94.76,44.10 L95.16,43.99" stroke="#000" stroke-width="2.7" stroke-dasharray="5.5 3"/><path d="M94.76,44.10 L95.16,43.99 L95.55,43.89 L95.95,43.78 L96.35,43.68 L96.75,43.58 L97.15,43.48 L97.55,43.38 L97.95,43.28 L98.35,43.18 L98.75,43.08 L99.15,42.99 L99.55,42.89 L99.95,42.80 L100.35,42.70 L100.75,42.61 L101.15,42.52 L101.55,42.43 L101.95,42.34 L102.35,42.25 L102.76,42.16 L103.16,42.08 L103.56,41.99 L103.96,41.91 L104.37,41.82 L104.77,41.74 L105.17,41.65 L105.57,41.57 L105.98,41.49 L106.38,41.41 L106.78,41.33 L107.19,41.25 L107.59,41.17 L108.00,41.10 L108.40,41.02 L108.81,40.94 L109.21,40.87 L109.61,40.79 L110.02,40.72 L110.42,40.65 L110.83,40.58 L111.23,40.50 L111.64,40.43 L112.05,40.36 L112.45,40.29 L112.86,40.22 L113.26,40.16 L113.67,40.09 L114.07,40.02 L114.48,39.95 L114.89,39.89 L115.29,39.82 L115.70,39.76 L116.10,39.69 L116.51,39.63 L116.92,39.57 L117.32,39.51 L117.73,39.44 L118.14,39.38 L118.55,39.32 L118.95,39.26 L119.36,39.20 L119.77,39.14 L120.17,39.08 L120.58,39.03 L120.99,38.97 L121.40,38.91 L121.80,38.86 L122.21,38.80 L122.62,38.74 L123.03,38.69 L123.43,38.64 L123.84,38.58 L124.25,38.53 L124.66,38.47 L125.07,38.42 L125.47,38.37 L125.88,38.32 L126.29,38.27 L126.70,38.22 L127.11,38.17 L127.52,38.12 L127.92,38.07 L128.33,38.02 L128.74,37.97 L129.15,37.92 L129.56,37.87 L129.97,37.83 L130.38,37.78 L130.79,37.73 L131.19,37.69 L131.60,37.64 L132.01,37.60 L132.42,37.55 L132.83,37.51 L133.24,37.46 L133.65,37.42 L134.06,37.38 L134.47,37.33 L134.88,37.29 L135.29,37.25 L135.69,37.21 L136.10,37.16 L136.51,37.12 L136.92,37.08 L137.33,37.04 L137.74,37.00 L138.15,36.96 L138.56,36.92 L138.97,36.88 L139.38,36.85 L139.79,36.81 L140.20,36.77 L140.61,36.73 L141.02,36.69 L141.43,36.66 L141.84,36.62 L142.25,36.58 L142.66,36.55 L143.07,36.51 L143.48,36.47 L143.89,36.44 L144.30,36.40 L144.71,36.37 L145.12,36.34 L145.53,36.30 L145.94,36.27 L146.35,36.23 L146.76,36.20 L147.17,36.17 L147.58,36.13 L147.99,36.10 L148.40,36.07 L148.81,36.04 L149.22,36.01 L149.63,35.97 L150.04,35.94 L150.45,35.91 L150.86,35.88 L151.27,35.85 L151.68,35.82 L152.09,35.79 L152.50,35.76 L152.91,35.73 L153.32,35.70 L153.73,35.67 L154.14,35.65 L154.55,35.62 L154.96,35.59 L155.37,35.56 L155.78,35.53 L156.20,35.51 L156.61,35.48 L157.02,35.45 L157.43,35.42 L157.84,35.40 L158.25,35.37 L158.66,35.35 L159.07,35.32 L159.48,35.29 L159.89,35.27 L160.30,35.24 L160.71,35.22 L161.12,35.19 L161.53,35.17 L161.94,35.14 L162.35,35.12 L162.77,35.09 L163.18,35.07 L163.59,35.05 L164.00,35.02 L164.41,35.00 L164.82,34.98 L165.23,34.95 L165.64,34.93 L166.05,34.91 L166.46,34.89 L166.87,34.86 L167.28,34.84 L167.70,34.82 L168.11,34.80 L168.52,34.78 L168.93,34.76 L169.34,34.74 L169.75,34.71 L170.16,34.69" stroke="#000" stroke-width="2.2" stroke-dasharray="3.3 1.4"/><path d="M169.75,34.71 L170.16,34.69 L170.57,34.67 L170.98,34.65 L171.39,34.63 L171.80,34.61 L172.22,34.59 L172.63,34.57 L173.04,34.55 L173.45,34.53 L173.86,34.51 L174.27,34.49 L174.68,34.48 L175.09,34.46 L175.50,34.44 L175.91,34.42 L176.33,34.40 L176.74,34.38 L177.15,34.37 L177.56,34.35 L177.97,34.33 L178.38,34.31 L178.79,34.30 L179.20,34.28 L179.61,34.26 L180.02,34.24 L180.44,34.23 L180.85,34.21 L181.26,34.19 L181.67,34.18 L182.08,34.16 L182.49,34.14 L182.90,34.13 L183.31,34.11 L183.72,34.10 L184.14,34.08 L184.55,34.07 L184.96,34.05 L185.37,34.04 L185.78,34.02 L186.19,34.01 L186.60,33.99 L187.01,33.98 L187.43,33.96 L187.84,33.95 L188.25,33.93 L188.66,33.92 L189.07,33.91 L189.48,33.89 L189.89,33.88 L190.30,33.86 L190.72,33.85 L191.13,33.84 L191.54,33.82 L191.95,33.81 L192.36,33.80 L192.77,33.78 L193.18,33.77 L193.59,33.76 L194.00,33.75 L194.42,33.73 L194.83,33.72 L195.24,33.71 L195.65,33.70 L196.06,33.68 L196.47,33.67 L196.88,33.66 L197.30,33.65 L197.71,33.64 L198.12,33.63 L198.53,33.61 L198.94,33.60 L199.35,33.59 L199.76,33.58 L200.17,33.57 L200.59,33.56 L201.00,33.55 L201.41,33.54 L201.82,33.53 L202.23,33.52 L202.64,33.51 L203.05,33.50 L203.46,33.49 L203.88,33.48 L204.29,33.47 L204.70,33.46 L205.11,33.45 L205.52,33.44 L205.93,33.43 L206.34,33.42 L206.76,33.41 L207.17,33.40 L207.58,33.39 L207.99,33.38 L208.40,33.37 L208.81,33.36 L209.22,33.35 L209.63,33.34 L210.05,33.34 L210.46,33.33 L210.87,33.32 L211.28,33.31 L211.69,33.30 L212.10,33.29 L212.51,33.28 L212.93,33.28 L213.34,33.27 L213.75,33.26 L214.16,33.25 L214.57,33.25 L214.98,33.24 L215.39,33.23 L215.81,33.22 L216.22,33.21 L216.63,33.21 L217.04,33.20 L217.45,33.19 L217.86,33.19 L218.27,33.18 L218.68,33.17 L219.10,33.16 L219.51,33.16 L219.92,33.15 L220.33,33.14 L220.74,33.14 L221.15,33.13 L221.56,33.12 L221.98,33.12 L222.39,33.11 L222.80,33.11 L223.21,33.10 L223.62,33.09 L224.03,33.09 L224.44,33.08 L224.86,33.08 L225.27,33.07 L225.68,33.06 L226.09,33.06 L226.50,33.05 L226.91,33.05 L227.32,33.04 L227.74,33.04 L228.15,33.03 L228.56,33.03 L228.97,33.02 L229.38,33.02 L229.79,33.01 L230.20,33.01 L230.62,33.00 L231.03,33.00 L231.44,32.99 L231.85,32.99 L232.26,32.98 L232.67,32.98 L233.08,32.97 L233.50,32.97 L233.91,32.96 L234.32,32.96 L234.73,32.95 L235.14,32.95 L235.55,32.95 L235.96,32.94 L236.38,32.94 L236.79,32.93 L237.20,32.93 L237.61,32.93 L238.02,32.92 L238.43,32.92 L238.84,32.91 L239.26,32.91 L239.67,32.91 L240.08,32.90 L240.49,32.90 L240.90,32.90 L241.31,32.89 L241.72,32.89 L242.14,32.89 L242.55,32.88 L242.96,32.88 L243.37,32.88 L243.78,32.87 L244.19,32.87 L244.60,32.87 L245.02,32.87 L245.43,32.86 L245.84,32.86 L246.25,32.86 L246.66,32.85 L247.07,32.85 L247.48,32.85 L247.90,32.85 L248.31,32.84 L248.72,32.84 L249.13,32.84 L249.54,32.84 L249.95,32.83 L250.36,32.83 L250.78,32.83 L251.19,32.83 L251.60,32.83 L252.01,32.82 L252.42,32.82 L252.83,32.82 L253.24,32.82 L253.66,32.82 L254.07,32.81 L254.48,32.81 L254.89,32.81 L255.30,32.81 L255.71,32.81 L256.12,32.81 L256.54,32.80 L256.95,32.80 L257.36,32.80 L257.77,32.80 L258.18,32.80 L258.59,32.80 L259.00,32.80 L259.42,32.80 L259.83,32.79 L260.24,32.79 L260.65,32.79 L261.06,32.79 L261.47,32.79 L261.88,32.79 L262.30,32.79 L262.71,32.79 L263.12,32.79 L263.53,32.79 L263.94,32.78 L264.35,32.78 L264.76,32.78 L265.18,32.78 L265.59,32.78 L266.00,32.78 L266.41,32.78 L266.82,32.78 L267.23,32.78 L267.64,32.78 L268.06,32.78 L268.47,32.78 L268.88,32.78 L269.29,32.78 L269.70,32.78 L270.11,32.78 L270.52,32.78 L270.94,32.78 L271.35,32.78 L271.76,32.78 L272.17,32.78 L272.58,32.78 L272.99,32.78 L273.40,32.78 L273.82,32.78 L274.23,32.78 L274.64,32.78 L275.05,32.78 L275.46,32.78 L275.87,32.78 L276.28,32.78 L276.70,32.78 L277.11,32.78 L277.52,32.78 L277.93,32.78 L278.34,32.78 L278.75,32.78 L279.16,32.78 L279.58,32.79 L279.99,32.79 L280.40,32.79 L280.81,32.79 L281.22,32.79 L281.63,32.79 L282.05,32.79 L282.46,32.79 L282.87,32.79 L283.28,32.79 L283.69,32.79 L284.10,32.80 L284.51,32.80 L284.93,32.80 L285.34,32.80 L285.75,32.80 L286.16,32.80 L286.57,32.80 L286.98,32.80 L287.39,32.80 L287.81,32.81 L288.22,32.81 L288.63,32.81 L289.04,32.81 L289.45,32.81 L289.86,32.81 L290.27,32.81 L290.69,32.82 L291.10,32.82 L291.51,32.82 L291.92,32.82 L292.33,32.82 L292.74,32.82 L293.15,32.83 L293.57,32.83 L293.98,32.83 L294.39,32.83 L294.80,32.83 L295.21,32.83 L295.62,32.84 L296.03,32.84 L296.45,32.84 L296.86,32.84 L297.27,32.84 L297.68,32.85 L298.09,32.85 L298.50,32.85 L298.91,32.85 L299.33,32.86 L299.74,32.86 L300.15,32.86 L300.56,32.86 L300.97,32.86 L301.38,32.87 L301.79,32.87 L302.21,32.87 L302.62,32.87 L303.03,32.88 L303.44,32.88 L303.85,32.88 L304.26,32.88 L304.67,32.89 L305.09,32.89 L305.50,32.89 L305.91,32.89 L306.32,32.90 L306.73,32.90 L307.14,32.90 L307.55,32.90 L307.97,32.91 L308.38,32.91 L308.79,32.91 L309.20,32.91 L309.61,32.92 L310.02,32.92 L310.43,32.92 L310.85,32.93 L311.26,32.93 L311.67,32.93 L312.08,32.93 L312.49,32.94 L312.90,32.94 L313.31,32.94 L313.73,32.95 L314.14,32.95 L314.55,32.95 L314.96,32.96 L315.37,32.96 L315.78,32.96 L316.19,32.96 L316.61,32.97 L317.02,32.97 L317.43,32.97 L317.84,32.98 L318.25,32.98 L318.66,32.98 L319.07,32.99 L319.49,32.99 L319.90,32.99 L320.31,33.00 L320.72,33.00 L321.13,33.00 L321.54,33.01 L321.95,33.01 L322.37,33.01 L322.78,33.02 L323.19,33.02 L323.60,33.02 L324.01,33.03 L324.42,33.03 L324.83,33.04 L325.25,33.04 L325.66,33.04 L326.07,33.05 L326.48,33.05 L326.89,33.05 L327.30,33.06 L327.71,33.06 L328.13,33.07 L328.54,33.07 L328.95,33.07 L329.36,33.08 L329.77,33.08 L330.18,33.08 L330.59,33.09 L331.01,33.09 L331.42,33.10 L331.83,33.10 L332.24,33.10 L332.65,33.11 L333.06,33.11 L333.47,33.12 L333.89,33.12 L334.30,33.12 L334.71,33.13 L335.12,33.13 L335.53,33.14 L335.94,33.14 L336.35,33.14 L336.77,33.15 L337.18,33.15 L337.59,33.16 L338.00,33.16" stroke="#000" stroke-width="2.0" stroke-dasharray="3 0.9"/>
</g>
<g fill="none" stroke="#686868" stroke-width="1">
<rect x="37.5" y="6.5" width="301.0" height="236.0"/>
<path d="M37.5,242.5h3M338.5,242.5h-3"/><path d="M37.5,218.5h3M338.5,218.5h-3"/><path d="M37.5,195.5h3M338.5,195.5h-3"/><path d="M37.5,171.5h3M338.5,171.5h-3"/><path d="M37.5,147.5h3M338.5,147.5h-3"/><path d="M37.5,124.5h3M338.5,124.5h-3"/><path d="M37.5,100.5h3M338.5,100.5h-3"/><path d="M37.5,77.5h3M338.5,77.5h-3"/><path d="M37.5,53.5h3M338.5,53.5h-3"/><path d="M37.5,29.5h3M338.5,29.5h-3"/><path d="M37.5,6.5h3M338.5,6.5h-3"/><path d="M76.5,242.5v-3M76.5,6.5v3"/><path d="M120.5,242.5v-3M120.5,6.5v3"/><path d="M163.5,242.5v-3M163.5,6.5v3"/><path d="M207.5,242.5v-3M207.5,6.5v3"/><path d="M250.5,242.5v-3M250.5,6.5v3"/><path d="M294.5,242.5v-3M294.5,6.5v3"/><path d="M338.5,242.5v-3M338.5,6.5v3"/>
</g>
<g font-family="'Liberation Sans', Arial, sans-serif" font-size="9" fill="#262626" stroke="#262626" stroke-width="0.15">
<text x="33.0" y="246.1" text-anchor="end">30</text><text x="33.0" y="222.5" text-anchor="end">31</text><text x="33.0" y="198.9" text-anchor="end">32</text><text x="33.0" y="175.3" text-anchor="end">33</text><text x="33.0" y="151.7" text-anchor="end">34</text><text x="33.0" y="128.1" text-anchor="end">35</text><text x="33.0" y="104.5" text-anchor="end">36</text><text x="33.0" y="80.9" text-anchor="end">37</text><text x="33.0" y="57.3" text-anchor="end">38</text><text x="33.0" y="33.7" text-anchor="end">39</text><text x="33.0" y="10.1" text-anchor="end">40</text><text x="76.5" y="255.8" text-anchor="middle">1</text><text x="120.1" y="255.8" text-anchor="middle">2</text><text x="163.7" y="255.8" text-anchor="middle">3</text><text x="207.3" y="255.8" text-anchor="middle">4</text><text x="250.9" y="255.8" text-anchor="middle">5</text><text x="294.6" y="255.8" text-anchor="middle">6</text><text x="338.2" y="255.8" text-anchor="middle">7</text>
</g>
<rect x="48.5" y="177.5" width="185" height="64" fill="#fff" stroke="#6a6a6a" stroke-width="1"/>
<g font-family="'Liberation Sans', Arial, sans-serif" font-size="8.5" fill="#1a1a1a" stroke="#1a1a1a" stroke-width="0.22">
<path d="M51,186.1H79" stroke="#000" stroke-width="2.2"/><text x="81" y="187.9">HSMS2810: <tspan font-family="'Liberation Serif', serif" font-size="8.5">&#951;</tspan><tspan font-size="6.8" dy="3.8">max</tspan><tspan dy="-3.8">=37.1 %; R</tspan><tspan font-size="6.8" dy="3.8">opt</tspan><tspan dy="-3.8">=712 &#937;</tspan></text><path d="M51,201.6H79" stroke="#00f" stroke-width="2.2"/><text x="81" y="203.4">HSMS2820: <tspan font-family="'Liberation Serif', serif" font-size="8.5">&#951;</tspan><tspan font-size="6.8" dy="3.8">max</tspan><tspan dy="-3.8">=37.81 %; R</tspan><tspan font-size="6.8" dy="3.8">opt</tspan><tspan dy="-3.8">=793 &#937;</tspan></text><path d="M51,217.1H79" stroke="#f00" stroke-width="2.2"/><text x="81" y="218.9">HSMS2850: <tspan font-family="'Liberation Serif', serif" font-size="8.5">&#951;</tspan><tspan font-size="6.8" dy="3.8">max</tspan><tspan dy="-3.8">=39.02 %; R</tspan><tspan font-size="6.8" dy="3.8">opt</tspan><tspan dy="-3.8">=4 k&#937;</tspan></text><path d="M51,232.6H79" stroke="#000" stroke-width="2.2" stroke-dasharray="6.3 4.5"/><text x="81" y="234.4">HSMS2860: <tspan font-family="'Liberation Serif', serif" font-size="8.5">&#951;</tspan><tspan font-size="6.8" dy="3.8">max</tspan><tspan dy="-3.8">=38.9 %; R</tspan><tspan font-size="6.8" dy="3.8">opt</tspan><tspan dy="-3.8">=4.7 k&#937;</tspan></text>
</g>
<text x="171.5" y="269.5" font-family="'Liberation Sans', Arial, sans-serif" font-size="10" fill="#262626" stroke="#262626" stroke-width="0.15">R<tspan font-size="8" dy="4">L</tspan><tspan dy="-4">(k&#937;)</tspan></text>
<text transform="translate(14,149) rotate(-90)" font-family="'Liberation Sans', Arial, sans-serif" font-size="10" fill="#262626" stroke="#262626" stroke-width="0.15"><tspan font-family="'Liberation Serif', serif" font-style="italic" font-size="11.5" dy="2.5">&#951;</tspan><tspan font-size="8" dy="1.8">RF/DC</tspan><tspan dy="-4.3"> (%)</tspan></text>
<text x="170" y="307.4" font-family="'Liberation Serif', serif" font-size="18.5" fill="#000">(<tspan font-weight="bold">a</tspan>)</text>

<!-- plot b -->
<g fill="none" stroke-linejoin="round" clip-path="url(#cb)">
<path d="M445.70,124.52 L445.72,124.12 L445.75,123.48 L445.77,122.56 L445.80,122.59 L445.82,121.96 L445.85,121.20 L445.88,120.96 L445.91,120.39 L445.93,119.86 L445.96,119.27 L445.99,118.89 L446.02,118.05 L446.05,117.68 L446.09,117.08 L446.12,116.84 L446.15,116.18 L446.19,115.58 L446.22,114.94 L446.26,114.56 L446.29,114.11 L446.33,113.52 L446.37,113.40 L446.41,112.81 L446.45,111.37 L446.49,111.06 L446.53,110.97 L446.58,110.39 L446.62,110.04 L446.67,109.52 L446.72,109.48 L446.76,108.16 L446.81,107.83 L446.86,107.92 L446.91,107.06 L446.97,106.55 L447.02,105.74 L447.08,104.94 L447.13,104.88 L447.19,104.35 L447.25,103.50 L447.31,103.13 L447.37,102.77 L447.44,102.03 L447.50,101.73 L447.57,101.27 L447.64,100.74 L447.71,100.09 L447.78,99.86 L447.85,99.42 L447.92,98.76 L448.00,97.97 L448.07,97.84 L448.15,97.02 L448.23,96.86 L448.31,95.86 L448.39,95.84 L448.47,95.10 L448.56,94.28 L448.64,94.01 L448.73,93.59 L448.81,93.13 L448.90,92.31 L448.99,91.77 L449.08,91.59 L449.17,90.91 L449.27,90.58 L449.36,90.20 L449.45,89.09 L449.55,89.06 L449.65,88.79 L449.74,87.90 L449.84,87.27 L449.94,87.15 L450.05,86.52 L450.15,86.17 L450.25,85.36 L450.36,84.57 L450.47,84.40 L450.58,83.81 L450.69,83.61 L450.80,82.96 L450.91,82.00 L451.03,81.61 L451.15,81.63 L451.27,81.07 L451.39,80.24 L451.51,79.90 L451.64,79.51 L451.76,79.01 L451.89,78.61 L452.03,77.96 L452.16,77.37 L452.30,76.83 L452.43,76.66 L452.57,75.34 L452.72,75.37 L452.86,74.91 L453.01,74.05 L453.16,74.00 L453.32,73.26 L453.48,73.15 L453.64,72.41 L453.80,72.12 L453.97,71.76 L454.14,71.07 L454.31,70.26 L454.49,69.62 L454.67,69.95 L454.85,69.00 L455.04,68.38 L455.23,68.10 L455.43,67.54 L455.63,67.32 L455.83,66.64 L456.04,66.16 L456.25,65.51 L456.46,65.34 L456.68,64.49 L456.90,64.45 L457.13,64.20 L457.36,62.98 L457.60,62.28 L457.84,62.59 L458.08,62.62 L458.33,61.28 L458.59,60.77 L458.84,60.78 L459.11,59.97 L459.37,59.62 L459.64,59.22 L459.92,59.00 L460.20,58.33 L460.49,58.07 L460.78,57.53 L461.07,56.94 L461.37,56.65 L461.68,56.07 L461.98,55.89 L462.30,55.20 L462.62,54.80 L462.94,55.03 L463.27,54.26 L463.60,53.86 L463.93,53.61 L464.28,52.99 L464.62,52.65 L464.97,52.43 L465.32,52.02 L465.68,51.28 L466.04,51.41 L466.41,50.69 L466.78,50.22 L467.16,49.90 L467.53,49.67 L467.92,49.83 L468.30,48.79 L468.69,48.78 L469.09,47.87 L469.48,48.07 L469.88,47.97 L470.29,47.36 L470.70,46.95 L471.11,46.85 L471.52,46.66 L471.94,46.34 L472.36,46.37 L472.78,45.63 L473.21,45.13 L473.63,44.96 L474.07,44.69 L474.50,44.45 L474.94,44.14 L475.38,43.92 L475.82,43.19 L476.26,43.55 L476.71,42.94 L477.16,42.53 L477.61,42.73 L478.06,42.66 L478.52,42.20 L478.98,41.88 L479.44,41.37 L479.90,42.09 L480.36,41.36 L480.82,40.63 L481.29,40.49 L481.76,40.49 L482.23,39.87 L482.70,40.08 L483.17,39.72 L483.65,39.93 L484.12,39.67 L484.60,38.55 L485.08,39.04 L485.56,38.43 L486.04,38.92 L486.52,38.50 L487.01,38.41 L487.49,37.83 L487.98,38.38 L488.46,38.25 L488.95,37.31 L489.44,37.50 L489.93,37.07 L490.42,37.07 L490.91,36.60 L491.40,37.22 L491.90,36.36 L492.39,36.37 L492.89,36.42 L493.38,35.98 L493.88,35.94 L494.37,35.72 L494.87,35.68 L495.37,35.28 L495.87,35.33 L496.37,35.25 L496.87,35.09 L497.37,35.06 L497.87,34.84 L498.37,34.98 L498.87,34.58 L499.37,34.51 L499.88,34.26 L500.38,34.17 L500.88,33.87 L501.39,34.20 L501.89,33.68 L502.40,33.66 L502.90,33.83 L503.41,33.73 L503.92,33.43 L504.42,32.92 L504.93,33.43 L505.44,33.29 L505.95,32.77 L506.45,33.22 L506.96,32.76 L507.47,32.55 L507.98,32.77 L508.49,32.61 L509.00,32.61 L509.51,32.07 L510.02,32.84 L510.53,32.15 L511.04,31.83 L511.55,32.29 L512.06,31.96 L512.57,32.05 L513.08,31.81 L513.59,31.80 L514.10,31.80 L514.61,31.48 L515.13,31.76 L515.64,31.40 L516.15,31.23 L516.66,31.40 L517.17,31.42 L517.69,31.18 L518.20,30.96 L518.71,31.26 L519.23,30.60 L519.74,30.72 L520.25,30.92 L520.77,30.51 L521.28,30.80 L521.79,30.72 L522.31,30.90 L522.82,30.39 L523.33,30.40 L523.85,30.58 L524.36,29.83 L524.88,31.17 L525.39,30.16 L525.91,30.10 L526.42,30.45 L526.93,30.17 L527.45,29.69 L527.96,30.24 L528.48,30.25 L528.99,29.88 L529.51,29.87 L530.02,30.02 L530.54,29.62 L531.05,29.92 L531.57,29.81 L532.08,29.55 L532.60,29.33 L533.12,29.58 L533.63,29.38 L534.15,29.81 L534.66,29.55 L535.18,29.67 L535.69,29.47 L536.21,29.47 L536.73,29.17 L537.24,29.50 L537.76,29.74 L538.27,29.18 L538.79,29.08 L539.30,29.15 L539.82,29.04 L540.34,28.95 L540.85,29.13 L541.37,28.99 L541.89,29.39 L542.40,29.00 L542.92,29.05 L543.43,29.18 L543.95,28.84 L544.47,29.25 L544.98,28.70 L545.50,28.63 L546.02,28.72 L546.53,28.75 L547.05,28.41 L547.57,28.72 L548.08,28.29 L548.60,29.03 L549.12,28.64 L549.63,28.48 L550.15,28.39 L550.67,28.50 L551.18,28.52 L551.70,28.29 L552.22,28.30 L552.73,28.46 L553.25,28.36 L553.77,28.71 L554.28,28.74 L554.80,28.44 L555.32,28.54 L555.83,28.07 L556.35,28.54 L556.87,28.36 L557.38,28.47 L557.90,28.73 L558.42,27.75 L558.93,28.37 L559.45,28.01 L559.97,28.42 L560.48,27.93 L561.00,28.12 L561.52,28.28 L562.04,28.37 L562.55,28.23 L563.07,28.00 L563.59,28.05 L564.10,28.39 L564.62,28.16 L565.14,27.73 L565.65,28.35 L566.17,28.23 L566.69,28.34 L567.21,28.03 L567.72,28.31 L568.24,27.83 L568.76,28.23 L569.27,27.95 L569.79,28.24 L570.31,28.31 L570.82,27.87 L571.34,28.03 L571.86,28.05 L572.38,28.33 L572.89,28.20 L573.41,27.72 L573.93,28.13 L574.44,28.20 L574.96,28.54 L575.48,27.58 L576.00,27.86 L576.51,28.32 L577.03,27.65 L577.55,27.68 L578.06,28.11 L578.58,28.23 L579.10,27.81 L579.62,28.11 L580.13,28.00 L580.65,28.35 L581.17,27.96 L581.68,28.21 L582.20,27.73 L582.72,27.91 L583.24,27.93 L583.75,28.24 L584.27,28.10 L584.79,27.77 L585.30,28.13 L585.82,28.15 L586.34,27.93 L586.86,27.89 L587.37,27.91 L587.89,27.53 L588.41,28.01 L588.92,28.02 L589.44,27.75 L589.96,28.15 L590.47,27.62 L590.99,27.83 L591.51,27.85 L592.03,28.47 L592.54,27.58 L593.06,28.12 L593.58,28.22 L594.09,28.08 L594.61,28.28 L595.13,27.74 L595.65,27.43 L596.16,28.19 L596.68,27.71 L597.20,27.93 L597.71,27.72 L598.23,28.28 L598.75,28.24 L599.27,27.85 L599.78,28.26 L600.30,28.07 L600.82,28.01 L601.33,28.06 L601.85,28.01 L602.37,28.22 L602.89,28.15 L603.40,27.99 L603.92,28.33 L604.44,27.94 L604.95,28.17 L605.47,28.21 L605.99,28.48 L606.50,27.99 L607.02,28.56 L607.54,28.18 L608.06,28.09 L608.57,27.98 L609.09,28.30 L609.61,28.18 L610.12,27.90 L610.64,27.90 L611.16,28.05 L611.68,28.03 L612.19,28.48 L612.71,28.56 L613.23,28.44 L613.74,28.32 L614.26,28.14 L614.78,28.27 L615.29,28.48 L615.81,28.81 L616.33,28.51 L616.85,28.22 L617.36,28.31 L617.88,28.19 L618.40,28.13 L618.91,28.29 L619.43,28.39 L619.95,28.82 L620.46,28.38 L620.98,28.72 L621.50,28.83 L622.02,28.42 L622.53,28.81 L623.05,28.60 L623.57,28.33 L624.08,28.51 L624.60,28.47 L625.12,28.41 L625.63,28.43 L626.15,28.53 L626.67,28.62 L627.19,28.30 L627.70,28.53 L628.22,28.17 L628.74,28.62 L629.25,28.73 L629.77,28.63 L630.29,28.67 L630.80,28.76 L631.32,28.46 L631.84,28.58 L632.35,28.78 L632.87,28.91 L633.39,28.78 L633.91,29.33 L634.42,28.68 L634.94,28.97 L635.46,29.05 L635.97,28.71 L636.49,28.56 L637.01,28.48 L637.52,28.83 L638.04,29.08 L638.56,28.89 L639.07,28.88 L639.59,28.75 L640.11,29.00 L640.63,28.34 L641.14,28.95 L641.66,28.92 L642.18,28.58 L642.69,29.48 L643.21,28.61 L643.73,28.70 L644.24,28.69 L644.76,29.28 L645.28,28.79 L645.79,29.20 L646.31,29.20 L646.83,29.13 L647.34,28.75 L647.86,28.94 L648.38,29.53 L648.90,28.81 L649.41,28.94 L649.93,29.12 L650.45,29.38 L650.96,29.26 L651.48,29.40 L652.00,28.96 L652.51,29.48 L653.03,29.40 L653.55,28.88 L654.06,29.68 L654.58,29.89 L655.10,29.14 L655.61,29.36 L656.13,29.71 L656.65,29.01 L657.16,28.90 L657.68,29.09 L658.20,29.29 L658.72,29.31 L659.23,29.62 L659.75,29.55 L660.27,29.19 L660.78,29.66 L661.30,30.01 L661.82,29.86 L662.33,29.82 L662.85,29.60 L663.37,29.86 L663.88,29.39 L664.40,29.84 L664.92,29.64 L665.43,29.97 L665.95,29.82 L666.47,29.45 L666.98,29.77 L667.50,30.06 L668.02,29.49 L668.53,29.66 L669.05,29.62 L669.57,29.46 L670.08,30.09 L670.60,30.20 L671.12,30.09 L671.64,29.97 L672.15,29.91 L672.67,30.01 L673.19,29.78 L673.70,30.21 L674.22,30.27 L674.74,30.26 L675.25,29.91 L675.77,30.08 L676.29,30.04 L676.80,30.55 L677.32,30.17 L677.84,29.67 L678.35,30.26 L678.87,30.65 L679.39,30.37 L679.90,30.44 L680.42,30.25 L680.94,29.77 L681.45,29.83 L681.97,29.99 L682.49,30.29 L683.00,30.42 L683.52,30.53 L684.04,30.30 L684.55,30.64 L685.07,30.35 L685.59,30.27 L686.10,30.67 L686.62,30.25 L687.14,29.82 L687.65,30.26 L688.17,30.57 L688.69,29.79 L689.20,30.50 L689.72,30.52 L690.24,30.27 L690.75,30.28 L691.27,30.55 L691.79,30.55 L692.30,31.02 L692.82,30.82 L693.34,30.36 L693.85,30.56 L694.37,30.97 L694.89,31.29 L695.40,30.93 L695.92,30.93 L696.44,31.34 L696.95,30.89 L697.47,30.84 L697.99,30.59 L698.50,30.83 L699.02,31.53 L699.54,30.65 L700.05,31.03 L700.57,30.70 L701.09,31.10 L701.60,31.31 L702.12,31.05 L702.64,31.32 L703.15,31.34 L703.67,31.29 L704.19,31.63 L704.70,31.42 L705.22,31.17 L705.74,31.10 L706.25,31.08 L706.77,31.43 L707.29,31.25 L707.80,32.04 L708.32,31.84 L708.84,31.34 L709.35,31.34 L709.87,31.86 L710.39,30.99 L710.90,31.37 L711.42,31.74 L711.94,31.30 L712.45,31.43 L712.97,31.49 L713.49,31.76 L714.00,31.65 L714.52,31.74 L715.04,31.81 L715.55,31.69 L716.07,31.99 L716.59,31.55 L717.10,31.39 L717.62,31.33 L718.14,31.39 L718.65,31.68 L719.17,32.10 L719.69,31.91 L720.20,31.74 L720.72,31.64 L721.24,31.80 L721.75,31.86 L722.27,31.84 L722.79,31.64 L723.30,31.91 L723.82,32.30 L724.34,31.53 L724.85,32.03 L725.37,31.59 L725.89,32.18 L726.40,31.98 L726.92,31.66 L727.44,32.23 L727.95,32.69 L728.47,32.28 L728.99,32.57 L729.50,32.28 L730.02,31.78 L730.54,32.47 L731.05,32.27 L731.57,32.03 L732.09,32.61 L732.60,32.51 L733.12,32.33 L733.64,32.70 L734.15,32.29 L734.67,32.69 L735.18,32.32 L735.70,32.71 L736.22,32.33 L736.73,33.00 L737.25,32.71 L737.77,33.03 L738.28,32.49 L738.80,32.60 L739.32,32.95 L739.83,32.08 L740.35,32.52 L740.87,33.07 L741.38,32.95 L741.90,33.11 L742.42,32.81 L742.93,33.05 L743.45,32.75 L743.97,32.61 L744.48,32.56 L745.00,32.86" stroke="#000" stroke-width="2.9"/>
<path d="M445.80,241.02 L445.82,240.21 L445.84,239.60 L445.86,238.45 L445.89,238.88 L445.91,238.08 L445.93,237.07 L445.95,236.71 L445.98,235.95 L446.00,235.10 L446.03,234.85 L446.05,233.89 L446.08,233.24 L446.10,232.49 L446.13,232.17 L446.16,231.39 L446.18,230.91 L446.21,229.99 L446.24,229.53 L446.27,228.64 L446.29,228.44 L446.32,227.64 L446.35,227.04 L446.38,226.42 L446.41,225.43 L446.45,225.24 L446.48,224.92 L446.51,223.36 L446.54,222.70 L446.57,222.12 L446.61,222.07 L446.64,221.25 L446.68,220.85 L446.71,220.13 L446.75,219.36 L446.78,218.74 L446.82,217.99 L446.85,217.62 L446.89,216.48 L446.93,216.02 L446.97,215.55 L447.00,215.30 L447.04,214.02 L447.08,213.31 L447.12,212.80 L447.16,212.55 L447.20,211.61 L447.24,211.36 L447.28,209.93 L447.32,210.04 L447.36,209.38 L447.40,208.13 L447.44,207.89 L447.49,207.52 L447.53,206.60 L447.57,206.19 L447.61,205.90 L447.66,204.73 L447.70,203.96 L447.74,203.20 L447.79,202.92 L447.83,202.07 L447.88,201.44 L447.92,200.82 L447.96,200.37 L448.01,199.31 L448.05,198.56 L448.10,197.69 L448.14,197.97 L448.19,197.05 L448.23,196.77 L448.28,195.76 L448.32,194.94 L448.37,194.60 L448.42,193.83 L448.46,192.90 L448.51,192.36 L448.56,192.38 L448.60,191.39 L448.65,190.77 L448.70,189.96 L448.75,189.22 L448.80,188.98 L448.84,188.10 L448.89,187.30 L448.94,186.82 L448.99,185.99 L449.04,185.63 L449.10,185.23 L449.15,184.10 L449.20,184.03 L449.25,182.87 L449.31,182.44 L449.36,181.56 L449.41,181.07 L449.47,180.51 L449.52,179.75 L449.58,179.05 L449.64,178.42 L449.69,177.75 L449.75,176.93 L449.81,176.62 L449.87,176.15 L449.93,175.64 L449.99,174.94 L450.05,174.76 L450.12,173.59 L450.18,172.76 L450.24,172.71 L450.31,171.34 L450.38,171.21 L450.44,170.10 L450.51,169.79 L450.58,168.57 L450.65,168.66 L450.73,167.76 L450.80,166.92 L450.87,166.95 L450.95,166.09 L451.03,165.28 L451.11,164.45 L451.19,163.99 L451.27,163.33 L451.36,162.92 L451.44,162.30 L451.53,161.30 L451.62,160.70 L451.71,160.08 L451.80,159.24 L451.89,158.80 L451.99,158.29 L452.08,157.86 L452.18,157.38 L452.28,156.22 L452.38,155.93 L452.48,155.05 L452.58,155.05 L452.68,153.89 L452.78,153.40 L452.89,152.41 L452.99,151.81 L453.09,151.44 L453.20,150.66 L453.30,150.22 L453.41,149.11 L453.51,149.03 L453.62,148.01 L453.72,148.04 L453.83,146.91 L453.93,146.63 L454.04,145.37 L454.14,145.20 L454.24,144.24 L454.35,143.71 L454.45,143.21 L454.56,142.50 L454.66,142.01 L454.76,141.50 L454.87,140.85 L454.97,140.04 L455.07,139.09 L455.18,138.60 L455.28,138.12 L455.39,137.01 L455.49,137.10 L455.60,136.22 L455.71,135.59 L455.82,135.26 L455.93,134.56 L456.04,133.83 L456.15,132.89 L456.27,132.59 L456.38,131.97 L456.50,131.04 L456.62,130.89 L456.74,130.13 L456.86,128.89 L456.98,128.79 L457.11,127.81 L457.23,127.79 L457.36,127.08 L457.49,125.98 L457.62,125.41 L457.76,125.03 L457.89,124.32 L458.03,124.14 L458.17,123.32 L458.31,122.44 L458.45,122.04 L458.60,120.76 L458.74,120.73 L458.89,120.25 L459.04,119.37 L459.20,118.61 L459.35,118.32 L459.51,118.05 L459.67,116.99 L459.83,116.04 L460.00,116.07 L460.16,114.62 L460.33,114.60 L460.51,113.71 L460.68,113.48 L460.86,112.42 L461.04,112.35 L461.22,111.49 L461.41,110.37 L461.60,109.70 L461.79,109.50 L461.98,109.30 L462.18,108.40 L462.38,107.78 L462.59,107.10 L462.80,106.74 L463.01,106.05 L463.22,105.43 L463.44,104.51 L463.66,104.46 L463.89,103.90 L464.12,102.64 L464.36,102.95 L464.59,101.96 L464.84,101.07 L465.08,100.13 L465.34,100.18 L465.59,99.57 L465.85,98.70 L466.12,97.82 L466.39,97.98 L466.67,96.97 L466.95,96.43 L467.23,96.69 L467.52,95.94 L467.82,95.08 L468.12,94.17 L468.43,93.89 L468.75,92.60 L469.07,92.64 L469.39,91.88 L469.72,91.20 L470.05,90.58 L470.39,90.57 L470.74,89.93 L471.09,89.41 L471.44,89.05 L471.80,88.10 L472.17,87.48 L472.54,86.82 L472.91,86.67 L473.28,86.42 L473.66,85.68 L474.05,85.37 L474.43,84.41 L474.82,84.08 L475.22,83.51 L475.61,82.89 L476.01,83.17 L476.41,82.42 L476.82,81.52 L477.22,81.03 L477.63,80.71 L478.04,79.88 L478.45,79.86 L478.87,78.94 L479.28,78.69 L479.70,78.04 L480.12,77.70 L480.54,77.01 L480.96,76.47 L481.39,76.14 L481.81,75.74 L482.24,75.37 L482.67,74.99 L483.11,74.88 L483.54,74.24 L483.98,73.51 L484.42,73.29 L484.86,72.48 L485.30,72.55 L485.75,71.87 L486.20,70.94 L486.65,71.02 L487.11,70.59 L487.56,69.27 L488.02,69.31 L488.48,68.94 L488.95,68.13 L489.41,67.92 L489.88,67.51 L490.36,67.45 L490.83,66.97 L491.31,67.13 L491.79,65.95 L492.27,65.92 L492.76,65.24 L493.25,64.88 L493.74,64.12 L494.23,63.52 L494.73,63.41 L495.23,63.40 L495.73,63.21 L496.23,62.57 L496.74,62.16 L497.25,61.44 L497.77,61.66 L498.28,61.24 L498.80,60.40 L499.32,60.15 L499.85,59.55 L500.37,59.80 L500.90,59.18 L501.44,58.71 L501.97,58.49 L502.51,58.15 L503.05,57.60 L503.59,57.06 L504.14,56.71 L504.69,56.27 L505.24,56.50 L505.79,56.62 L506.34,55.33 L506.90,55.48 L507.46,55.25 L508.03,54.60 L508.59,54.60 L509.16,53.98 L509.73,54.27 L510.30,53.54 L510.88,53.44 L511.45,53.31 L512.03,52.76 L512.61,52.16 L513.19,52.21 L513.78,52.28 L514.36,51.82 L514.95,51.65 L515.54,51.08 L516.13,51.14 L516.73,51.05 L517.32,50.65 L517.92,50.89 L518.51,50.14 L519.11,49.71 L519.71,49.35 L520.31,49.82 L520.91,49.31 L521.52,49.37 L522.12,49.03 L522.73,49.12 L523.33,48.83 L523.94,48.23 L524.55,48.20 L525.16,48.21 L525.77,47.45 L526.38,47.93 L526.99,47.69 L527.61,47.46 L528.22,46.99 L528.83,46.94 L529.45,46.42 L530.06,46.54 L530.68,46.22 L531.30,46.22 L531.91,45.92 L532.53,45.95 L533.15,46.02 L533.77,45.24 L534.39,45.65 L535.01,44.77 L535.63,44.58 L536.25,44.94 L536.87,44.83 L537.49,44.80 L538.11,44.13 L538.74,44.39 L539.36,44.30 L539.98,44.45 L540.61,43.98 L541.23,44.00 L541.86,43.49 L542.48,43.56 L543.11,43.37 L543.73,43.53 L544.36,42.98 L544.98,42.90 L545.61,43.13 L546.23,43.31 L546.86,42.84 L547.49,42.70 L548.11,42.42 L548.74,42.66 L549.37,42.41 L550.00,42.60 L550.63,42.13 L551.25,41.70 L551.88,41.69 L552.51,41.47 L553.14,41.30 L553.77,41.82 L554.40,41.60 L555.03,40.98 L555.65,41.63 L556.28,41.15 L556.91,40.74 L557.54,40.98 L558.17,40.76 L558.80,40.48 L559.43,40.09 L560.06,40.49 L560.69,40.45 L561.32,39.64 L561.95,40.33 L562.59,40.25 L563.22,39.88 L563.85,39.93 L564.48,39.74 L565.11,39.50 L565.74,39.53 L566.37,39.87 L567.00,39.08 L567.63,39.41 L568.27,39.30 L568.90,38.99 L569.53,38.97 L570.16,38.64 L570.79,38.69 L571.42,38.82 L572.06,38.81 L572.69,38.41 L573.32,39.31 L573.95,38.32 L574.58,38.41 L575.22,38.24 L575.85,38.11 L576.48,38.45 L577.11,37.92 L577.74,38.29 L578.38,38.16 L579.01,37.53 L579.64,37.97 L580.27,37.46 L580.91,38.23 L581.54,37.36 L582.17,37.14 L582.81,36.82 L583.44,36.89 L584.07,36.99 L584.70,36.81 L585.34,36.67 L585.97,36.72 L586.60,36.77 L587.24,37.10 L587.87,36.23 L588.50,36.44 L589.13,36.26 L589.77,36.04 L590.40,36.03 L591.03,36.04 L591.67,36.37 L592.30,36.06 L592.93,35.90 L593.57,36.11 L594.20,35.95 L594.83,35.75 L595.47,35.82 L596.10,35.44 L596.73,35.73 L597.37,35.62 L598.00,35.32 L598.63,35.04 L599.27,35.65 L599.90,35.22 L600.53,35.89 L601.17,34.89 L601.80,35.19 L602.43,34.79 L603.07,34.89 L603.70,34.97 L604.34,34.48 L604.97,34.59 L605.60,34.58 L606.24,34.50 L606.87,34.55 L607.50,34.58 L608.14,34.46 L608.77,34.25 L609.41,34.03 L610.04,33.76 L610.67,33.79 L611.31,33.77 L611.94,34.01 L612.58,33.68 L613.21,33.39 L613.85,33.79 L614.48,33.36 L615.11,33.30 L615.75,33.37 L616.38,33.48 L617.02,32.69 L617.65,32.95 L618.29,33.21 L618.92,33.01 L619.56,32.82 L620.19,32.83 L620.82,33.25 L621.46,32.72 L622.09,32.95 L622.73,32.91 L623.36,32.53 L624.00,32.69 L624.63,32.41 L625.27,32.31 L625.90,32.12 L626.54,32.55 L627.17,32.18 L627.81,32.08 L628.44,31.87 L629.08,32.55 L629.71,32.22 L630.35,31.94 L630.98,31.74 L631.62,31.47 L632.25,31.87 L632.89,31.81 L633.52,31.33 L634.16,31.91 L634.79,31.76 L635.43,31.27 L636.06,31.31 L636.70,31.29 L637.34,31.38 L637.97,31.25 L638.61,30.82 L639.24,31.54 L639.88,31.20 L640.51,31.38 L641.15,31.33 L641.78,30.91 L642.42,30.99 L643.06,31.04 L643.69,30.99 L644.33,30.71 L644.96,30.54 L645.60,30.66 L646.24,30.40 L646.87,30.41 L647.51,29.99 L648.14,30.47 L648.78,30.14 L649.41,30.21 L650.05,30.28 L650.69,30.33 L651.32,30.67 L651.96,30.20 L652.59,29.75 L653.23,30.09 L653.87,29.86 L654.50,30.06 L655.14,29.75 L655.78,29.69 L656.41,29.70 L657.05,29.62 L657.68,29.28 L658.32,29.52 L658.96,29.64 L659.59,29.90 L660.23,29.49 L660.87,29.42 L661.50,29.62 L662.14,29.57 L662.78,29.79 L663.41,29.49 L664.05,29.30 L664.69,29.60 L665.32,29.60 L665.96,29.06 L666.60,29.18 L667.23,28.68 L667.87,28.97 L668.51,28.80 L669.14,28.93 L669.78,28.82 L670.42,28.86 L671.05,28.84 L671.69,28.95 L672.33,28.85 L672.96,28.62 L673.60,28.40 L674.24,28.99 L674.87,29.00 L675.51,28.50 L676.15,28.72 L676.78,28.16 L677.42,28.11 L678.06,28.40 L678.69,28.80 L679.33,28.14 L679.97,28.16 L680.61,28.74 L681.24,27.83 L681.88,28.43 L682.52,28.36 L683.15,28.15 L683.79,28.22 L684.43,28.80 L685.07,27.83 L685.70,28.00 L686.34,27.99 L686.98,27.85 L687.61,27.65 L688.25,28.36 L688.89,27.99 L689.53,27.46 L690.16,27.70 L690.80,27.95 L691.44,27.92 L692.07,27.43 L692.71,27.74 L693.35,27.80 L693.99,27.81 L694.62,27.78 L695.26,27.20 L695.90,28.09 L696.54,27.66 L697.17,28.03 L697.81,28.27 L698.45,27.49 L699.09,27.19 L699.72,27.69 L700.36,27.41 L701.00,27.32 L701.64,27.15 L702.27,27.81 L702.91,27.25 L703.55,26.99 L704.19,27.20 L704.82,27.00 L705.46,27.31 L706.10,27.15 L706.74,26.97 L707.37,27.36 L708.01,27.03 L708.65,27.35 L709.29,27.46 L709.92,27.04 L710.56,26.95 L711.20,27.14 L711.84,27.29 L712.47,27.05 L713.11,27.07 L713.75,27.01 L714.39,27.07 L715.02,27.14 L715.66,26.79 L716.30,26.82 L716.94,26.94 L717.57,26.75 L718.21,26.93 L718.85,27.01 L719.49,26.86 L720.13,26.70 L720.76,26.64 L721.40,27.26 L722.04,27.02 L722.68,26.51 L723.31,26.56 L723.95,27.23 L724.59,27.13 L725.23,26.77 L725.87,27.01 L726.50,26.34 L727.14,26.70 L727.78,26.87 L728.42,26.21 L729.05,26.46 L729.69,26.84 L730.33,26.92 L730.97,26.48 L731.61,26.69 L732.24,27.00 L732.88,26.50 L733.52,26.25 L734.16,26.56 L734.79,26.47 L735.43,26.88 L736.07,26.59 L736.71,26.34 L737.35,27.13 L737.98,26.39 L738.62,26.63 L739.26,26.67 L739.90,26.69 L740.53,26.53 L741.17,26.63 L741.81,26.46 L742.45,26.11 L743.09,26.41 L743.72,26.41 L744.36,26.40 L745.00,26.48" stroke="#00f" stroke-width="2.9"/>
<path d="M450.50,241.53 L450.56,239.77 L450.62,239.90 L450.68,239.05 L450.74,238.46 L450.80,237.91 L450.86,236.85 L450.91,236.69 L450.97,235.92 L451.03,236.36 L451.08,234.97 L451.14,234.22 L451.20,233.62 L451.25,232.91 L451.31,232.21 L451.36,231.76 L451.42,231.37 L451.48,230.58 L451.53,230.27 L451.59,229.37 L451.64,228.81 L451.70,228.58 L451.75,227.72 L451.81,226.85 L451.86,226.32 L451.92,225.89 L451.97,225.63 L452.03,224.46 L452.08,223.86 L452.14,223.56 L452.19,222.48 L452.25,222.02 L452.30,221.70 L452.36,221.01 L452.41,220.28 L452.47,219.81 L452.52,218.33 L452.58,218.68 L452.63,217.57 L452.69,216.79 L452.74,216.66 L452.80,216.16 L452.86,215.26 L452.91,214.49 L452.97,214.16 L453.03,213.53 L453.08,213.28 L453.14,212.51 L453.20,211.76 L453.25,211.38 L453.31,210.44 L453.37,209.65 L453.43,209.41 L453.49,208.80 L453.54,207.99 L453.60,207.24 L453.66,206.88 L453.72,205.59 L453.78,205.78 L453.84,205.12 L453.90,203.97 L453.96,203.79 L454.02,202.92 L454.08,202.74 L454.14,201.43 L454.20,201.10 L454.27,200.90 L454.33,200.40 L454.39,198.96 L454.45,198.77 L454.52,198.36 L454.58,197.52 L454.65,197.46 L454.71,196.16 L454.77,195.93 L454.84,194.97 L454.90,194.98 L454.97,194.01 L455.04,193.31 L455.10,192.37 L455.17,192.61 L455.24,191.76 L455.31,191.16 L455.38,190.64 L455.45,189.84 L455.52,188.98 L455.59,188.33 L455.66,187.72 L455.73,187.65 L455.80,186.34 L455.87,185.95 L455.95,185.41 L456.02,184.93 L456.10,184.41 L456.17,183.35 L456.25,182.62 L456.32,182.44 L456.40,182.14 L456.48,181.42 L456.56,180.67 L456.64,179.93 L456.72,179.48 L456.80,178.73 L456.88,178.39 L456.96,177.38 L457.05,177.01 L457.13,176.34 L457.22,175.89 L457.30,175.21 L457.39,175.18 L457.48,174.31 L457.57,173.70 L457.66,172.21 L457.75,172.03 L457.85,171.36 L457.94,171.04 L458.04,169.73 L458.13,169.99 L458.23,169.36 L458.33,168.16 L458.43,167.63 L458.53,167.07 L458.64,166.68 L458.74,166.23 L458.85,165.97 L458.96,164.81 L459.07,164.45 L459.18,163.69 L459.29,163.49 L459.40,162.63 L459.51,162.19 L459.63,160.97 L459.74,160.59 L459.86,159.83 L459.98,159.81 L460.10,159.00 L460.22,158.16 L460.34,157.52 L460.46,157.15 L460.59,156.25 L460.71,155.60 L460.84,155.35 L460.96,155.25 L461.09,153.97 L461.22,153.29 L461.35,152.54 L461.48,151.90 L461.61,151.76 L461.74,151.25 L461.87,150.44 L462.00,149.92 L462.13,149.26 L462.27,148.67 L462.40,147.66 L462.53,147.33 L462.67,146.87 L462.80,146.05 L462.94,145.53 L463.07,144.84 L463.21,144.37 L463.35,144.07 L463.49,143.15 L463.63,142.62 L463.77,142.26 L463.91,141.63 L464.06,141.29 L464.20,139.75 L464.35,139.89 L464.50,138.96 L464.65,138.52 L464.81,138.11 L464.96,137.57 L465.12,136.97 L465.28,136.16 L465.44,135.93 L465.61,134.87 L465.77,134.31 L465.94,133.96 L466.11,133.03 L466.28,133.12 L466.45,132.25 L466.63,131.95 L466.81,130.81 L466.99,130.13 L467.17,129.69 L467.36,129.24 L467.54,128.33 L467.73,127.99 L467.92,127.31 L468.12,127.13 L468.31,125.98 L468.51,125.83 L468.71,124.83 L468.92,124.17 L469.12,123.65 L469.33,122.96 L469.54,122.72 L469.75,122.36 L469.97,121.57 L470.19,121.11 L470.41,120.79 L470.63,119.88 L470.86,119.29 L471.09,118.61 L471.32,117.70 L471.55,117.73 L471.79,116.54 L472.03,116.57 L472.27,115.84 L472.51,115.57 L472.76,114.71 L473.01,113.96 L473.27,113.69 L473.52,112.91 L473.78,112.45 L474.04,111.95 L474.31,111.35 L474.57,110.79 L474.84,110.07 L475.12,109.69 L475.39,108.65 L475.67,108.60 L475.95,107.79 L476.24,107.83 L476.52,107.33 L476.82,105.98 L477.11,105.97 L477.40,105.36 L477.70,104.60 L478.00,104.46 L478.31,103.68 L478.62,102.82 L478.92,102.66 L479.24,102.17 L479.55,101.70 L479.87,100.85 L480.19,100.78 L480.52,100.29 L480.84,99.30 L481.17,98.91 L481.50,98.54 L481.84,97.90 L482.17,97.97 L482.51,97.07 L482.86,96.26 L483.20,95.81 L483.55,95.48 L483.90,95.57 L484.25,94.45 L484.60,94.02 L484.96,93.62 L485.32,92.99 L485.68,93.07 L486.05,91.88 L486.41,91.70 L486.78,91.07 L487.15,90.70 L487.53,89.76 L487.90,90.01 L488.28,89.06 L488.67,88.62 L489.05,87.90 L489.44,87.47 L489.83,87.32 L490.22,86.96 L490.61,86.43 L491.01,86.08 L491.41,85.49 L491.82,84.86 L492.22,84.60 L492.63,84.08 L493.04,83.45 L493.45,83.21 L493.87,82.90 L494.29,82.19 L494.71,81.59 L495.14,81.42 L495.57,81.28 L496.00,80.31 L496.43,79.91 L496.87,79.47 L497.30,79.38 L497.75,78.19 L498.19,78.32 L498.64,78.10 L499.09,77.18 L499.54,77.35 L500.00,76.70 L500.45,76.02 L500.92,75.80 L501.38,74.97 L501.85,74.81 L502.32,75.02 L502.79,73.94 L503.26,74.24 L503.74,73.38 L504.22,73.26 L504.70,72.65 L505.19,71.70 L505.68,71.75 L506.17,71.57 L506.66,70.87 L507.16,70.47 L507.66,70.54 L508.16,69.93 L508.67,69.32 L509.17,69.23 L509.68,69.27 L510.19,68.60 L510.71,68.62 L511.23,68.44 L511.75,67.74 L512.27,67.13 L512.79,66.77 L513.32,66.77 L513.85,66.69 L514.38,66.23 L514.91,66.00 L515.45,65.45 L515.99,65.34 L516.53,64.86 L517.07,64.61 L517.61,64.08 L518.16,63.73 L518.71,63.73 L519.26,63.30 L519.81,63.07 L520.36,63.21 L520.91,62.76 L521.47,63.26 L522.03,62.50 L522.59,61.86 L523.15,61.97 L523.71,61.62 L524.27,61.11 L524.84,61.32 L525.40,60.62 L525.97,59.81 L526.54,60.55 L527.11,59.97 L527.68,60.27 L528.25,59.51 L528.82,59.16 L529.40,59.62 L529.97,58.75 L530.55,58.86 L531.12,58.96 L531.70,58.42 L532.28,58.16 L532.85,58.00 L533.43,57.99 L534.01,57.37 L534.59,57.53 L535.17,57.33 L535.76,57.57 L536.34,56.71 L536.92,56.38 L537.51,56.60 L538.09,56.13 L538.67,56.12 L539.26,55.89 L539.84,55.97 L540.43,55.33 L541.02,55.30 L541.60,54.50 L542.19,54.74 L542.78,55.17 L543.37,54.44 L543.95,54.27 L544.54,53.97 L545.13,54.25 L545.72,53.98 L546.31,53.47 L546.90,53.76 L547.49,53.50 L548.08,53.45 L548.67,52.94 L549.26,53.37 L549.86,52.88 L550.45,52.59 L551.04,52.32 L551.63,52.23 L552.22,52.35 L552.82,51.91 L553.41,52.09 L554.00,51.81 L554.59,51.84 L555.19,51.56 L555.78,51.18 L556.37,50.57 L556.97,50.96 L557.56,50.93 L558.16,50.62 L558.75,50.57 L559.34,50.16 L559.94,50.03 L560.53,49.74 L561.13,50.17 L561.72,49.72 L562.32,49.41 L562.91,49.05 L563.51,49.20 L564.10,49.45 L564.70,49.06 L565.29,48.61 L565.89,49.01 L566.48,48.86 L567.08,48.60 L567.68,48.41 L568.27,48.36 L568.87,48.06 L569.47,47.98 L570.06,47.45 L570.66,47.88 L571.26,47.42 L571.85,47.73 L572.45,46.58 L573.05,47.13 L573.65,47.06 L574.24,46.59 L574.84,46.65 L575.44,46.59 L576.04,46.42 L576.64,46.00 L577.24,45.97 L577.83,46.13 L578.43,46.06 L579.03,45.64 L579.63,45.50 L580.23,45.41 L580.83,45.49 L581.43,44.84 L582.03,44.64 L582.63,44.88 L583.23,44.45 L583.83,44.45 L584.43,44.50 L585.03,44.48 L585.64,43.97 L586.24,44.32 L586.84,43.55 L587.44,44.01 L588.04,43.37 L588.64,43.32 L589.25,43.69 L589.85,43.31 L590.45,43.10 L591.05,43.07 L591.66,43.19 L592.26,42.95 L592.86,42.84 L593.47,43.00 L594.07,42.45 L594.67,42.41 L595.28,42.29 L595.88,42.60 L596.48,42.45 L597.09,42.42 L597.69,41.99 L598.30,41.85 L598.90,42.01 L599.51,41.59 L600.11,41.80 L600.72,41.67 L601.32,41.22 L601.93,41.28 L602.53,41.17 L603.14,41.54 L603.75,41.66 L604.35,40.89 L604.96,40.83 L605.56,40.16 L606.17,40.69 L606.78,40.55 L607.38,40.19 L607.99,40.57 L608.60,39.89 L609.20,40.14 L609.81,40.14 L610.42,39.71 L611.02,40.15 L611.63,40.12 L612.24,39.42 L612.85,39.34 L613.46,39.76 L614.06,39.52 L614.67,39.14 L615.28,39.29 L615.89,39.26 L616.50,39.17 L617.10,39.34 L617.71,39.15 L618.32,39.42 L618.93,39.24 L619.54,39.00 L620.15,39.02 L620.75,39.01 L621.36,38.78 L621.97,38.23 L622.58,38.68 L623.19,38.41 L623.80,38.73 L624.41,38.27 L625.02,38.31 L625.63,38.20 L626.24,38.47 L626.85,38.02 L627.46,37.84 L628.07,37.92 L628.68,37.67 L629.29,37.75 L629.89,37.65 L630.50,37.65 L631.11,38.00 L631.72,37.36 L632.33,37.41 L632.94,37.29 L633.55,37.44 L634.17,36.92 L634.78,36.98 L635.39,37.09 L636.00,37.17 L636.61,36.97 L637.22,36.80 L637.83,36.65 L638.44,36.93 L639.05,37.11 L639.66,36.77 L640.27,36.69 L640.88,36.70 L641.49,36.29 L642.10,36.40 L642.71,36.36 L643.32,36.44 L643.94,36.31 L644.55,35.96 L645.16,36.49 L645.77,36.59 L646.38,36.05 L646.99,36.16 L647.60,36.08 L648.21,36.16 L648.82,35.54 L649.44,36.27 L650.05,35.70 L650.66,36.09 L651.27,35.74 L651.88,35.58 L652.49,35.60 L653.10,35.81 L653.72,35.32 L654.33,35.40 L654.94,35.33 L655.55,34.98 L656.16,35.69 L656.77,35.46 L657.39,35.27 L658.00,35.52 L658.61,34.95 L659.22,35.13 L659.83,35.54 L660.44,35.31 L661.06,34.47 L661.67,34.15 L662.28,34.69 L662.89,35.17 L663.50,34.75 L664.12,34.77 L664.73,34.94 L665.34,34.53 L665.95,34.77 L666.56,34.87 L667.18,34.75 L667.79,34.70 L668.40,34.41 L669.01,34.66 L669.62,34.39 L670.24,34.78 L670.85,35.06 L671.46,34.20 L672.07,33.81 L672.68,34.21 L673.30,34.38 L673.91,34.51 L674.52,34.49 L675.13,33.99 L675.75,33.95 L676.36,34.44 L676.97,33.82 L677.58,34.33 L678.20,33.97 L678.81,34.19 L679.42,34.14 L680.03,34.13 L680.65,34.11 L681.26,33.63 L681.87,33.92 L682.48,33.82 L683.10,33.86 L683.71,34.06 L684.32,33.66 L684.93,33.52 L685.55,33.49 L686.16,33.57 L686.77,33.80 L687.38,33.39 L688.00,33.85 L688.61,33.61 L689.22,33.45 L689.83,33.15 L690.45,33.52 L691.06,33.61 L691.67,32.97 L692.28,33.68 L692.90,33.77 L693.51,33.42 L694.12,33.43 L694.74,33.89 L695.35,33.57 L695.96,33.01 L696.57,33.21 L697.19,33.15 L697.80,33.13 L698.41,32.55 L699.02,33.31 L699.64,32.94 L700.25,33.12 L700.86,33.02 L701.48,33.25 L702.09,32.94 L702.70,32.79 L703.31,33.10 L703.93,33.30 L704.54,32.85 L705.15,33.25 L705.77,32.96 L706.38,32.74 L706.99,33.23 L707.60,32.63 L708.22,33.07 L708.83,32.67 L709.44,32.89 L710.06,32.45 L710.67,32.53 L711.28,32.99 L711.90,32.75 L712.51,32.69 L713.12,32.56 L713.73,32.76 L714.35,32.28 L714.96,32.34 L715.57,32.56 L716.19,32.37 L716.80,32.39 L717.41,32.53 L718.02,32.50 L718.64,32.46 L719.25,32.92 L719.86,32.74 L720.48,32.78 L721.09,32.45 L721.70,32.32 L722.32,32.06 L722.93,32.32 L723.54,31.88 L724.15,32.24 L724.77,32.56 L725.38,32.76 L725.99,32.58 L726.61,32.11 L727.22,32.44 L727.83,32.10 L728.45,32.49 L729.06,32.25 L729.67,32.48 L730.29,32.89 L730.90,32.47 L731.51,32.81 L732.12,32.26 L732.74,32.12 L733.35,32.52 L733.96,32.61 L734.58,32.03 L735.19,32.18 L735.80,31.79 L736.42,32.08 L737.03,32.35 L737.64,32.09 L738.26,31.96 L738.87,31.74 L739.48,32.17 L740.09,32.27 L740.71,32.21 L741.32,32.12 L741.93,31.72 L742.55,32.47 L743.16,32.01 L743.77,31.98 L744.39,32.19 L745.00,31.46" stroke="#f00" stroke-width="2.9"/>
<path d="M445.70,141.14 L445.72,140.90 L445.74,141.00 L445.76,140.39 L445.78,139.46 L445.80,139.51 L445.82,138.99 L445.83,138.83 L445.85,138.03 L445.87,138.14 L445.89,137.78 L445.91,137.76 L445.93,137.08 L445.96,136.77 L445.98,135.91 L446.00,136.49 L446.02,135.09 L446.04,135.49 L446.06,134.77 L446.08,134.28 L446.10,133.98 L446.12,133.62 L446.15,133.52 L446.17,133.04 L446.19,133.08 L446.21,131.90 L446.24,131.99 L446.26,131.41 L446.28,131.47 L446.31,130.39 L446.33,130.48 L446.35,130.26 L446.38,129.48 L446.40,129.74 L446.43,129.18 L446.45,129.03 L446.48,128.66 L446.51,127.82 L446.53,127.50 L446.56,127.30 L446.58,127.18 L446.61,126.84 L446.64,126.10 L446.67,125.77 L446.70,125.36 L446.72,125.06 L446.75,124.79 L446.78,124.46 L446.81,124.65 L446.84,123.65 L446.88,123.34 L446.91,123.17 L446.94,122.46 L446.97,122.25 L447.00,121.99 L447.04,121.83 L447.07,120.95 L447.11,121.26 L447.14,120.47 L447.18,120.25 L447.22,120.06 L447.26,119.66 L447.30,119.40 L447.34,118.82 L447.38,118.42 L447.42,118.15 L447.46,117.46 L447.51,117.66 L447.55,116.81 L447.60,116.33 L447.65,116.80 L447.69,115.90 L447.74,115.29 L447.79,115.69 L447.85,114.79 L447.90,114.78 L447.95,113.95 L448.01,113.75 L448.06,113.03 L448.12,112.62 L448.18,112.50 L448.24,112.37 L448.30,112.24 L448.36,112.29 L448.42,111.08 L448.49,111.23 L448.55,110.48 L448.62,110.24 L448.69,109.55 L448.76,109.20 L448.82,109.03 L448.90,108.57 L448.97,108.52 L449.04,107.99 L449.11,108.13 L449.19,107.50 L449.26,107.16 L449.34,107.05 L449.41,106.54 L449.49,106.06 L449.57,105.69 L449.65,105.33 L449.72,105.28 L449.80,104.86 L449.88,104.41 L449.96,104.17 L450.05,103.48 L450.13,103.40 L450.21,102.57 L450.29,102.91 L450.38,102.25 L450.46,101.92 L450.55,101.68 L450.63,101.18 L450.72,100.77 L450.81,100.78 L450.90,100.17 L450.98,99.56 L451.08,99.55 L451.17,98.67 L451.26,99.16 L451.35,98.36 L451.45,98.07 L451.54,98.28 L451.64,97.90 L451.73,97.05 L451.83,96.83 L451.93,96.60 L452.03,96.41 L452.13,95.61 L452.23,95.33 L452.34,95.26 L452.44,94.68 L452.55,94.46 L452.66,94.08 L452.76,93.31 L452.87,93.03 L452.99,92.25 L453.10,92.50 L453.21,92.56 L453.33,91.61 L453.44,91.86 L453.56,91.46 L453.68,90.86 L453.80,90.53 L453.93,90.22 L454.05,89.65 L454.18,89.46 L454.31,89.18 L454.44,89.01 L454.57,88.72 L454.70,88.01 L454.84,88.07 L454.98,87.34 L455.12,87.16 L455.26,86.96 L455.40,86.54 L455.55,86.18 L455.70,85.96 L455.85,85.43 L456.00,85.08 L456.16,84.87 L456.31,84.84 L456.47,84.25 L456.63,84.43 L456.80,83.69 L456.96,82.57 L457.13,82.89 L457.30,83.10 L457.47,82.37 L457.65,81.95 L457.83,81.53 L458.01,81.77 L458.19,81.38 L458.38,80.99 L458.56,80.62 L458.75,80.57 L458.94,80.12 L459.14,79.30 L459.34,79.50 L459.53,79.05 L459.74,78.69 L459.94,78.61 L460.15,78.14 L460.36,77.10 L460.57,77.94 L460.78,77.52 L461.00,76.94 L461.22,76.60 L461.44,76.47 L461.66,75.81 L461.89,75.93 L462.12,75.52 L462.35,75.21 L462.58,74.80 L462.82,74.59 L463.06,74.77 L463.30,74.56 L463.54,74.09 L463.78,73.69 L464.03,73.22 L464.28,73.36 L464.53,73.33 L464.78,72.27 L465.04,72.71 L465.30,71.63 L465.56,71.84 L465.82,71.78 L466.08,71.10 L466.35,70.82 L466.62,71.01 L466.89,70.94 L467.16,70.37 L467.43,70.60 L467.71,69.83 L467.99,70.24 L468.26,69.61 L468.55,69.41 L468.83,69.29 L469.11,69.00 L469.40,69.16 L469.69,69.04 L469.97,68.41 L470.26,68.02 L470.56,67.56 L470.85,67.46 L471.15,67.45 L471.44,67.22 L471.74,67.04 L472.04,66.85" stroke="#000" stroke-width="2.5" stroke-dasharray="4.5 3"/><path d="M471.74,67.04 L472.04,66.85 L472.34,66.78 L472.64,66.12 L472.94,66.01 L473.25,66.36 L473.55,66.10 L473.86,65.57 L474.17,65.85 L474.48,65.17 L474.79,65.10 L475.10,64.53 L475.41,65.02 L475.73,64.63 L476.04,64.73 L476.36,64.47 L476.67,64.15 L476.99,64.00 L477.31,64.09 L477.63,63.59 L477.95,63.43 L478.27,63.33 L478.59,63.35 L478.91,63.23 L479.23,63.32 L479.56,62.67 L479.88,62.85 L480.21,62.22 L480.53,62.39 L480.86,62.12 L481.19,62.38 L481.51,61.95 L481.84,61.55 L482.17,61.66 L482.50,61.46 L482.83,61.16 L483.16,61.03 L483.49,60.73 L483.83,61.52 L484.16,60.73 L484.49,60.81 L484.83,60.14 L485.16,60.03 L485.49,60.14 L485.83,60.01 L486.16,60.12 L486.50,59.55 L486.84,59.81 L487.17,59.93 L487.51,59.20 L487.85,59.54 L488.19,58.95 L488.52,59.16 L488.86,59.04 L489.20,59.27 L489.54,58.55 L489.88,58.65 L490.22,58.76 L490.56,58.09 L490.90,58.27 L491.24,57.95 L491.59,57.88 L491.93,58.12 L492.27,58.01 L492.61,58.38 L492.95,57.97 L493.30,57.84 L493.64,57.38 L493.98,57.24 L494.33,57.25 L494.67,56.55 L495.02,57.43 L495.36,56.75 L495.71,56.55 L496.05,56.60 L496.40,56.84 L496.74,56.84 L497.09,56.34 L497.43,56.44 L497.78,56.23 L498.12,55.90 L498.47,56.10 L498.82,55.97 L499.16,55.49 L499.51,56.06 L499.86,55.30 L500.21,55.67 L500.55,55.26 L500.90,55.23 L501.25,55.17 L501.60,55.44 L501.95,54.87 L502.29,55.05 L502.64,55.40 L502.99,54.76 L503.34,54.84 L503.69,54.93 L504.04,54.54 L504.39,54.73 L504.74,54.36 L505.09,54.62 L505.44,54.39 L505.79,54.06 L506.14,54.57 L506.49,54.12 L506.84,54.00 L507.19,53.76 L507.54,53.80 L507.89,53.82 L508.24,53.81 L508.59,53.97 L508.94,53.30 L509.30,53.47 L509.65,53.78 L510.00,53.46 L510.35,53.45 L510.70,53.67 L511.05,53.29 L511.41,53.26 L511.76,53.06 L512.11,53.45 L512.46,53.20 L512.81,52.69 L513.17,52.94 L513.52,52.45 L513.87,52.95 L514.22,52.78 L514.58,52.51 L514.93,52.39 L515.28,51.97 L515.64,52.55 L515.99,52.27 L516.34,52.16 L516.70,52.36 L517.05,51.95 L517.40,51.91 L517.76,51.82 L518.11,51.60 L518.46,52.48 L518.82,51.77 L519.17,51.68 L519.52,51.93 L519.88,50.86 L520.23,51.59 L520.59,51.54 L520.94,51.24 L521.29,51.54 L521.65,50.86 L522.00,51.32 L522.36,51.48 L522.71,50.65 L523.07,50.79 L523.42,51.05 L523.78,51.03 L524.13,50.82 L524.48,51.02 L524.84,50.93 L525.19,50.48 L525.55,50.74 L525.90,50.40 L526.26,50.14 L526.61,50.01 L526.97,50.82 L527.32,50.48 L527.68,50.95 L528.03,50.05 L528.39,50.28 L528.75,50.40 L529.10,50.23 L529.46,50.35 L529.81,50.21 L530.17,49.98 L530.52,49.50 L530.88,49.80 L531.23,50.43 L531.59,50.15 L531.94,50.26 L532.30,49.72 L532.66,49.78 L533.01,49.56 L533.37,49.84 L533.72,49.71 L534.08,49.77 L534.44,50.06 L534.79,49.36 L535.15,49.72 L535.50,49.14 L535.86,49.73 L536.22,49.30 L536.57,49.35 L536.93,49.36 L537.28,49.70 L537.64,49.24 L538.00,49.09 L538.35,48.87 L538.71,49.20 L539.07,48.88 L539.42,48.93 L539.78,49.01 L540.13,49.15" stroke="#000" stroke-width="2.1" stroke-dasharray="9 0.6"/><path d="M539.78,49.01 L540.13,49.15 L540.49,48.76 L540.85,49.07 L541.20,49.31 L541.56,48.46 L541.92,49.13 L542.27,49.29 L542.63,48.57 L542.99,48.84 L543.34,48.31 L543.70,48.70 L544.06,48.50 L544.41,48.62 L544.77,48.28 L545.13,48.27 L545.48,48.33 L545.84,48.23 L546.20,48.21 L546.55,48.28 L546.91,48.02 L547.27,48.23 L547.62,48.35 L547.98,47.62 L548.34,48.22 L548.70,47.95 L549.05,47.82 L549.41,47.73 L549.77,47.82 L550.12,47.82 L550.48,48.06 L550.84,47.63 L551.19,48.17 L551.55,47.67 L551.91,48.02 L552.27,48.09 L552.62,47.49 L552.98,48.03 L553.34,48.28 L553.69,47.60 L554.05,47.83 L554.41,47.62 L554.77,47.65 L555.12,47.56 L555.48,47.45 L555.84,47.73 L556.20,47.75 L556.55,47.50 L556.91,47.85 L557.27,47.72 L557.62,47.60 L557.98,47.21 L558.34,47.84 L558.70,47.67 L559.05,46.78 L559.41,47.01 L559.77,47.14 L560.13,47.47 L560.48,47.52 L560.84,47.12 L561.20,47.22 L561.56,47.31 L561.91,46.79 L562.27,47.24 L562.63,46.99 L562.99,47.08 L563.34,47.00 L563.70,46.69 L564.06,46.72 L564.42,46.95 L564.77,46.95 L565.13,46.83 L565.49,47.14 L565.85,46.76 L566.21,46.52 L566.56,46.71 L566.92,46.73 L567.28,46.72 L567.64,47.02 L567.99,46.84 L568.35,46.95 L568.71,46.82 L569.07,46.60 L569.42,46.88 L569.78,46.53 L570.14,46.64 L570.50,46.30 L570.86,46.56 L571.21,46.43 L571.57,46.58 L571.93,46.92 L572.29,47.04 L572.64,46.68 L573.00,46.40 L573.36,46.59 L573.72,46.42 L574.08,46.19 L574.43,46.31 L574.79,46.24 L575.15,46.14 L575.51,46.61 L575.87,46.11 L576.22,46.10 L576.58,46.38 L576.94,46.02 L577.30,45.88 L577.65,45.94 L578.01,46.25 L578.37,46.21 L578.73,46.17 L579.09,45.96 L579.44,45.83 L579.80,46.27 L580.16,45.66 L580.52,45.95 L580.88,45.65 L581.23,45.87 L581.59,45.91 L581.95,46.24 L582.31,45.20 L582.67,46.24 L583.02,45.66 L583.38,45.94 L583.74,46.05 L584.10,45.64 L584.46,45.79 L584.81,45.92 L585.17,45.75 L585.53,45.58 L585.89,45.80 L586.25,45.76 L586.60,45.34 L586.96,46.04 L587.32,45.74 L587.68,45.06 L588.04,45.45 L588.39,46.07 L588.75,46.02 L589.11,45.68 L589.47,45.17 L589.83,45.52 L590.19,45.83 L590.54,45.65 L590.90,45.45 L591.26,45.33 L591.62,45.71 L591.98,45.44 L592.33,45.56 L592.69,45.58 L593.05,45.86 L593.41,45.48 L593.77,45.48 L594.12,44.96 L594.48,45.67 L594.84,45.60 L595.20,45.36 L595.56,44.78 L595.92,45.19 L596.27,45.34 L596.63,45.83 L596.99,45.44 L597.35,45.48 L597.71,45.47 L598.06,45.59 L598.42,44.96 L598.78,45.02 L599.14,44.92 L599.50,45.13 L599.86,45.10 L600.21,45.20 L600.57,44.91 L600.93,45.18 L601.29,44.93 L601.65,45.66 L602.00,44.98 L602.36,45.74 L602.72,45.50 L603.08,44.78 L603.44,45.31 L603.80,45.21 L604.15,44.66 L604.51,45.18 L604.87,45.00 L605.23,45.10 L605.59,44.78 L605.95,44.97 L606.30,45.08 L606.66,44.92 L607.02,44.80 L607.38,44.90 L607.74,44.69 L608.09,45.01 L608.45,44.27 L608.81,45.28 L609.17,44.90 L609.53,45.00 L609.89,45.08 L610.24,44.55 L610.60,45.42 L610.96,44.56 L611.32,44.94 L611.68,44.90 L612.04,45.14 L612.39,44.79 L612.75,44.43 L613.11,44.86 L613.47,44.15 L613.83,44.71 L614.19,44.63 L614.54,45.13 L614.90,44.66 L615.26,44.61 L615.62,44.52 L615.98,44.49 L616.34,44.55 L616.69,44.83 L617.05,44.34 L617.41,44.61 L617.77,44.29 L618.13,44.60 L618.49,44.68 L618.84,44.32 L619.20,44.47 L619.56,44.64 L619.92,44.79 L620.28,44.83 L620.63,44.56 L620.99,44.32 L621.35,44.16 L621.71,44.75 L622.07,44.90 L622.43,44.63 L622.78,44.93 L623.14,44.41 L623.50,44.42 L623.86,44.90 L624.22,44.25 L624.58,44.65 L624.93,44.58 L625.29,44.52 L625.65,44.91 L626.01,44.24 L626.37,44.35 L626.73,43.93 L627.08,44.18 L627.44,44.31 L627.80,44.33 L628.16,44.37 L628.52,44.49 L628.88,44.24 L629.24,43.90 L629.59,44.43 L629.95,44.49 L630.31,44.09 L630.67,44.18 L631.03,44.81 L631.39,44.62 L631.74,44.63 L632.10,44.52 L632.46,44.38 L632.82,44.21 L633.18,44.47 L633.54,44.27 L633.89,44.21 L634.25,44.31 L634.61,44.28 L634.97,44.52 L635.33,44.05 L635.69,44.91 L636.04,44.03 L636.40,44.17 L636.76,44.51 L637.12,44.05 L637.48,44.14 L637.84,44.26 L638.19,43.50 L638.55,44.11 L638.91,43.99 L639.27,44.17 L639.63,44.35 L639.99,44.38 L640.34,44.59 L640.70,44.57 L641.06,44.46 L641.42,44.19 L641.78,44.46 L642.14,43.94 L642.49,44.16 L642.85,44.54 L643.21,44.37 L643.57,43.82 L643.93,44.02 L644.29,44.39 L644.65,44.31 L645.00,44.42 L645.36,43.70 L645.72,43.83 L646.08,44.08 L646.44,43.89 L646.80,44.12 L647.15,44.13 L647.51,44.21 L647.87,44.09 L648.23,44.26 L648.59,44.31 L648.95,44.15 L649.30,43.80 L649.66,44.43 L650.02,44.15 L650.38,44.20 L650.74,44.13 L651.10,43.68 L651.45,44.23 L651.81,43.91 L652.17,43.77 L652.53,44.39 L652.89,43.99 L653.25,44.14 L653.60,44.28 L653.96,44.46 L654.32,43.60 L654.68,43.86 L655.04,44.22 L655.40,43.87 L655.76,43.22 L656.11,44.07 L656.47,44.09 L656.83,44.23 L657.19,44.08 L657.55,43.91 L657.91,44.07 L658.26,44.01 L658.62,43.89 L658.98,44.08 L659.34,44.10 L659.70,43.75 L660.06,44.26 L660.41,44.21 L660.77,44.19 L661.13,43.30 L661.49,44.02 L661.85,43.96 L662.21,43.73 L662.56,44.13 L662.92,43.60 L663.28,44.29 L663.64,44.07 L664.00,43.85 L664.36,44.33 L664.72,44.08 L665.07,44.05 L665.43,43.64 L665.79,44.09 L666.15,44.31 L666.51,44.23 L666.87,43.63 L667.22,44.30 L667.58,44.35 L667.94,44.16 L668.30,43.85 L668.66,43.56 L669.02,43.71 L669.37,43.79 L669.73,44.00 L670.09,44.07 L670.45,43.74 L670.81,43.52 L671.17,43.82 L671.53,43.59 L671.88,44.26 L672.24,43.61 L672.60,44.04 L672.96,44.12 L673.32,43.67 L673.68,44.16 L674.03,43.87 L674.39,43.71 L674.75,43.67 L675.11,43.93 L675.47,44.17 L675.83,43.42 L676.18,44.05 L676.54,43.86 L676.90,43.70 L677.26,43.87 L677.62,43.89 L677.98,43.88 L678.34,44.09 L678.69,43.66 L679.05,44.39 L679.41,44.11 L679.77,43.74 L680.13,43.40 L680.49,43.88 L680.84,43.78 L681.20,44.07 L681.56,44.07 L681.92,44.37 L682.28,43.85 L682.64,44.08 L682.99,43.78 L683.35,43.79 L683.71,44.27 L684.07,43.85 L684.43,43.86 L684.79,43.80 L685.15,43.97 L685.50,44.03 L685.86,43.85 L686.22,43.60 L686.58,43.97 L686.94,43.68 L687.30,43.80 L687.65,43.94 L688.01,43.95 L688.37,43.30 L688.73,44.31 L689.09,44.09 L689.45,44.37 L689.80,44.52 L690.16,43.65 L690.52,43.74 L690.88,43.95 L691.24,44.12 L691.60,43.75 L691.96,43.80 L692.31,44.15 L692.67,43.66 L693.03,43.93 L693.39,44.15 L693.75,43.81 L694.11,44.07 L694.46,43.85 L694.82,43.48 L695.18,43.74 L695.54,43.82 L695.90,43.79 L696.26,43.88 L696.61,43.97 L696.97,43.95 L697.33,43.92 L697.69,43.76 L698.05,43.82 L698.41,43.78 L698.76,43.72 L699.12,44.21 L699.48,43.39 L699.84,43.93 L700.20,43.46 L700.56,43.72 L700.92,44.07 L701.27,43.79 L701.63,44.22 L701.99,43.63 L702.35,43.79 L702.71,43.70 L703.07,43.87 L703.42,43.78 L703.78,43.77 L704.14,43.88 L704.50,44.14 L704.86,43.90 L705.22,43.87 L705.57,43.78 L705.93,43.68 L706.29,43.49 L706.65,43.59 L707.01,43.86 L707.37,43.38 L707.73,44.02 L708.08,43.75 L708.44,43.62 L708.80,43.72 L709.16,44.02 L709.52,43.95 L709.88,43.93 L710.23,44.31 L710.59,44.46 L710.95,43.55 L711.31,44.10 L711.67,43.69 L712.03,43.54 L712.38,43.76 L712.74,44.15 L713.10,43.82 L713.46,43.79 L713.82,44.26 L714.18,44.04 L714.54,43.90 L714.89,44.38 L715.25,44.05 L715.61,43.75 L715.97,43.67 L716.33,43.84 L716.69,43.99 L717.04,44.19 L717.40,44.17 L717.76,43.98 L718.12,43.66 L718.48,44.19 L718.84,43.98 L719.19,43.69 L719.55,43.65 L719.91,44.02 L720.27,44.05 L720.63,44.17 L720.99,43.66 L721.35,44.45 L721.70,43.51 L722.06,43.96 L722.42,44.31 L722.78,44.24 L723.14,43.74 L723.50,44.13 L723.85,44.29 L724.21,44.17 L724.57,43.74 L724.93,44.41 L725.29,43.58 L725.65,44.00 L726.00,43.72 L726.36,43.88 L726.72,43.91 L727.08,44.12 L727.44,43.68 L727.80,44.05 L728.15,44.33 L728.51,44.02 L728.87,44.14 L729.23,44.11 L729.59,43.82 L729.95,43.92 L730.31,44.02 L730.66,44.14 L731.02,44.53 L731.38,44.43 L731.74,43.90 L732.10,43.92 L732.46,43.77 L732.81,43.45 L733.17,44.36 L733.53,44.17 L733.89,43.55 L734.25,44.04 L734.61,44.64 L734.96,44.17 L735.32,44.18 L735.68,44.10 L736.04,43.86 L736.40,43.76 L736.76,43.85 L737.12,44.10 L737.47,44.01 L737.83,44.25 L738.19,44.52 L738.55,44.23 L738.91,44.29 L739.27,44.00 L739.62,43.76 L739.98,44.64 L740.34,44.28 L740.70,44.40 L741.06,44.01 L741.42,43.68 L741.77,44.44 L742.13,43.57 L742.49,44.07 L742.85,43.98 L743.21,44.18 L743.57,44.33 L743.92,44.33 L744.28,43.60 L744.64,44.38 L745.00,43.65" stroke="#000" stroke-width="2.5" stroke-dasharray="9 0.6"/>
<path d="M445.60,240.77 L445.61,240.18 L445.63,240.00 L445.64,239.71 L445.65,239.43 L445.67,238.72 L445.68,238.10 L445.70,237.58 L445.71,237.51 L445.72,237.28 L445.74,236.48 L445.75,235.65 L445.77,235.26 L445.78,235.45 L445.79,234.64 L445.81,233.70 L445.82,233.66 L445.84,232.94 L445.85,232.61 L445.87,232.19 L445.88,231.68 L445.90,231.54 L445.91,230.93 L445.93,230.35 L445.94,230.14 L445.96,229.79 L445.98,228.72 L445.99,228.61 L446.01,227.97 L446.02,227.72 L446.04,226.98 L446.05,226.86 L446.07,226.39 L446.09,225.86 L446.10,225.22 L446.12,224.93 L446.14,224.30 L446.15,223.78 L446.17,223.72 L446.19,222.93 L446.20,223.05 L446.22,222.48 L446.24,221.34 L446.25,221.46 L446.27,220.66 L446.29,220.49 L446.31,220.03 L446.32,219.07 L446.34,219.05 L446.36,218.59 L446.38,218.44 L446.40,217.45 L446.41,217.47 L446.43,216.56 L446.45,216.30 L446.47,215.71 L446.49,215.83 L446.51,215.16 L446.53,215.17 L446.54,214.26 L446.56,213.86 L446.58,213.40 L446.60,212.59 L446.62,212.27 L446.64,212.16 L446.66,211.27 L446.68,210.96 L446.70,210.46 L446.72,210.16 L446.74,209.46 L446.76,209.06 L446.78,208.70 L446.80,208.21 L446.82,207.51 L446.85,207.50 L446.87,206.50 L446.89,206.07 L446.91,205.59 L446.93,205.70 L446.95,204.91 L446.98,204.30 L447.00,203.81 L447.02,203.74 L447.04,202.92 L447.06,202.41 L447.09,202.42 L447.11,201.52 L447.13,201.28 L447.16,200.90 L447.18,200.34 L447.20,199.98 L447.23,199.87 L447.25,198.96 L447.27,198.31 L447.30,197.72 L447.32,197.67 L447.35,197.18 L447.37,196.88 L447.40,196.24 L447.42,195.78 L447.45,195.26 L447.47,194.86 L447.50,194.58 L447.53,193.99 L447.55,193.65 L447.58,193.65 L447.60,192.84 L447.63,191.87 L447.66,192.24 L447.68,191.44 L447.71,190.66 L447.74,190.67 L447.77,189.99 L447.80,189.38 L447.82,188.92 L447.85,188.37 L447.88,188.18 L447.91,187.98 L447.94,187.18 L447.97,186.91 L448.00,186.82 L448.03,185.59 L448.06,185.50 L448.09,184.91 L448.12,184.27 L448.15,183.82 L448.18,183.62 L448.21,183.28 L448.24,182.58 L448.27,182.27 L448.31,181.98 L448.34,181.42 L448.37,181.11 L448.40,180.56 L448.44,180.11 L448.47,179.99 L448.50,179.23 L448.54,178.65 L448.57,178.35 L448.61,177.48 L448.64,177.17 L448.68,177.00 L448.71,176.51 L448.75,176.28 L448.79,175.45 L448.82,174.62 L448.86,175.02 L448.90,174.35 L448.94,173.36 L448.97,173.52 L449.01,172.73 L449.05,171.81 L449.09,171.71 L449.13,171.23 L449.17,171.30 L449.21,170.25 L449.25,169.93 L449.29,169.47 L449.33,168.99 L449.38,168.40 L449.42,168.23 L449.46,168.00 L449.50,167.43 L449.55,166.59 L449.59,166.08 L449.64,165.94 L449.68,165.28 L449.73,164.85 L449.77,164.13 L449.82,164.59 L449.87,163.88 L449.92,162.95 L449.96,162.97 L450.01,162.62 L450.06,161.24 L450.11,161.24 L450.16,160.83 L450.21,160.64 L450.26,159.99 L450.32,159.51 L450.37,159.10 L450.42,159.13 L450.48,158.75 L450.53,157.63 L450.59,157.08 L450.64,157.53 L450.70,156.16 L450.76,155.81 L450.81,155.51 L450.87,155.17 L450.93,154.85 L450.99,154.24 L451.05,153.47 L451.11,153.37 L451.17,152.85 L451.23,152.81 L451.29,151.88 L451.36,151.10 L451.42,150.72 L451.48,150.89 L451.54,149.95 L451.61,149.10 L451.67,149.03 L451.74,148.73 L451.80,148.57 L451.87,147.57 L451.94,147.54 L452.00,147.12 L452.07,146.30 L452.14,145.98 L452.20,146.02 L452.27,145.55 L452.34,144.89 L452.41,144.30 L452.48,144.06 L452.55,143.29 L452.61,142.85 L452.68,142.20 L452.75,141.97 L452.82,141.50 L452.89,141.76 L452.96,140.57 L453.03,140.49 L453.10,140.05 L453.18,139.22 L453.25,139.11 L453.32,137.82 L453.39,137.94 L453.46,137.68 L453.53,136.42 L453.61,136.28 L453.68,136.38 L453.75,135.61 L453.83,134.95 L453.90,134.68 L453.97,134.19 L454.05,134.05 L454.12,133.54 L454.20,132.90 L454.28,132.36 L454.35,132.06 L454.43,131.96 L454.50,131.26 L454.58,130.89 L454.66,130.24 L454.74,129.51 L454.82,129.20 L454.90,129.09 L454.98,128.51 L455.06,127.81 L455.14,127.18 L455.22,127.17 L455.30,126.60 L455.38,126.15 L455.46,125.71 L455.55,125.42 L455.63,124.97 L455.71,124.69 L455.80,124.23 L455.88,123.89 L455.97,123.31 L456.06,122.58 L456.14,122.20 L456.23,121.89 L456.32,121.24 L456.41,121.01 L456.50,120.71 L456.59,119.78 L456.68,119.09 L456.77,119.38 L456.87,118.64 L456.96,118.37 L457.06,117.41 L457.15,117.74 L457.25,117.04 L457.34,116.38 L457.44,115.88 L457.54,115.55 L457.64,115.04 L457.74,114.56 L457.84,113.91 L457.94,114.06 L458.05,113.29 L458.15,112.88 L458.26,112.44 L458.36,111.38 L458.47,111.66 L458.58,111.00 L458.69,110.57 L458.80,110.22 L458.91,109.52 L459.02,109.53 L459.14,108.70 L459.25,108.21 L459.37,107.78 L459.49,107.60 L459.61,107.30 L459.73,106.53 L459.85,105.86 L459.97,106.07 L460.10,105.10 L460.23,105.22 L460.35,104.47 L460.48,103.87 L460.61,103.45 L460.74,103.29 L460.88,102.96 L461.01,102.26 L461.15,102.11 L461.29,101.96 L461.43,100.95 L461.57,100.28 L461.71,99.87 L461.85,99.36 L462.00,99.11 L462.14,98.66 L462.29,98.08 L462.44,98.11 L462.59,96.90 L462.74,96.79 L462.90,97.19 L463.05,96.52 L463.21,95.97 L463.37,95.52 L463.53,95.42 L463.69,94.69 L463.85,94.15 L464.02,93.40 L464.19,93.26 L464.35,92.67 L464.52,92.26 L464.69,91.83 L464.87,91.58 L465.04,91.09 L465.22,90.97 L465.39,90.00 L465.57,89.87 L465.75,89.96 L465.94,89.08 L466.12,88.96 L466.31,88.53 L466.49,88.16 L466.68,87.60 L466.87,86.65 L467.06,86.52 L467.25,86.08 L467.45,85.37 L467.64,85.23 L467.84,84.62 L468.04,84.11 L468.24,84.17 L468.45,83.70 L468.65,83.13 L468.86,82.66 L469.06,82.36 L469.27,81.99 L469.49,81.58 L469.70,81.27 L469.92,80.77 L470.13,80.58 L470.35,80.21 L470.57,79.77 L470.80,79.12 L471.02,78.74 L471.25,78.60 L471.48,78.05 L471.72,77.70 L471.95,76.70 L472.19,76.26 L472.43,76.63 L472.67,76.24 L472.91,76.12 L473.16,75.57 L473.41,75.06 L473.66,74.63 L473.91,73.89 L474.17,74.09 L474.43,73.35 L474.69,73.25 L474.95,72.80 L475.21,72.45 L475.48,72.23 L475.75,71.52 L476.02,71.18 L476.30,70.70 L476.58,70.46 L476.85,70.61 L477.14,69.74 L477.42,69.77 L477.71,69.33 L477.99,68.95 L478.28,68.62 L478.58,67.82 L478.87,67.82 L479.17,67.78 L479.47,66.86 L479.77,66.68 L480.08,66.18" stroke="#00f" stroke-width="2.5" stroke-dasharray="4.5 3"/><path d="M479.77,66.68 L480.08,66.18 L480.38,66.10 L480.69,65.41 L481.00,65.75 L481.31,64.92 L481.63,64.30 L481.95,64.81 L482.27,64.28 L482.59,63.84 L482.91,63.53 L483.24,62.98 L483.56,62.70 L483.89,62.62 L484.23,62.36 L484.56,62.05 L484.90,61.57 L485.23,61.09 L485.57,60.85 L485.91,60.88 L486.26,60.66 L486.60,59.92 L486.95,59.59 L487.30,59.73 L487.65,59.30 L488.00,59.01 L488.35,58.22 L488.71,58.17 L489.07,57.85 L489.43,57.75 L489.79,57.00 L490.15,57.46 L490.51,56.95 L490.88,56.71 L491.24,56.03 L491.61,56.05 L491.98,56.13 L492.35,55.14 L492.73,55.34 L493.10,55.18 L493.48,54.58 L493.85,54.70 L494.23,54.16 L494.61,54.30 L494.99,53.87 L495.38,53.55 L495.76,53.75 L496.14,53.21 L496.53,53.09 L496.92,52.22 L497.31,52.12 L497.69,52.25 L498.09,52.04 L498.48,51.56 L498.87,51.54 L499.26,50.85 L499.66,50.94 L500.05,50.38 L500.45,50.53 L500.85,50.10 L501.25,49.84 L501.65,49.80 L502.05,50.02 L502.45,49.10 L502.85,48.99 L503.26,49.19 L503.66,48.61 L504.07,48.95 L504.47,48.36 L504.88,48.12 L505.29,47.99 L505.70,48.13 L506.11,47.66 L506.52,47.43 L506.93,47.16 L507.34,46.52 L507.76,46.49 L508.17,46.89 L508.58,46.54 L509.00,46.27 L509.41,46.12 L509.83,45.64 L510.25,45.67 L510.66,45.18 L511.08,45.32 L511.50,44.87 L511.92,44.82 L512.34,44.81 L512.76,44.44 L513.18,44.51 L513.60,44.29 L514.03,44.09 L514.45,44.16 L514.87,43.30 L515.30,43.10 L515.72,43.49 L516.15,43.40 L516.57,43.51 L517.00,43.03 L517.43,42.89 L517.85,42.30 L518.28,42.56 L518.71,42.38 L519.14,41.79 L519.57,41.68 L520.00,41.72 L520.42,41.67 L520.86,40.71 L521.29,41.32 L521.72,41.21 L522.15,40.96 L522.58,40.93 L523.01,40.83 L523.44,40.32 L523.88,40.53 L524.31,40.23 L524.74,39.91 L525.18,40.06 L525.61,40.24 L526.05,39.37 L526.48,39.19 L526.92,39.05 L527.35,39.83 L527.79,39.14 L528.22,39.05 L528.66,38.74 L529.10,38.57 L529.54,38.17 L529.97,38.59 L530.41,38.49 L530.85,37.80 L531.29,37.91 L531.73,37.86 L532.16,37.92 L532.60,37.87 L533.04,37.97 L533.48,37.91 L533.92,37.71 L534.36,37.66 L534.80,36.92 L535.24,36.95 L535.68,37.26 L536.12,36.93 L536.56,36.75 L537.01,36.14 L537.45,36.06 L537.89,36.59 L538.33,36.38 L538.77,36.12 L539.22,35.98 L539.66,35.54 L540.10,35.96 L540.54,36.02 L540.99,36.06 L541.43,35.56 L541.87,35.39 L542.32,35.06 L542.76,35.54 L543.20,35.56 L543.65,34.88 L544.09,35.00 L544.54,34.85 L544.98,34.58 L545.43,34.01 L545.87,34.44 L546.32,34.59 L546.76,33.98 L547.21,34.03 L547.65,33.32 L548.10,34.37 L548.54,34.08 L548.99,33.87 L549.44,33.70 L549.88,33.52 L550.33,33.57 L550.78,33.42 L551.22,33.34 L551.67,33.31 L552.12,33.26 L552.56,33.52 L553.01,32.69 L553.46,33.03 L553.90,32.72 L554.35,32.50 L554.80,32.11 L555.25,32.77 L555.69,32.28 L556.14,32.26" stroke="#00f" stroke-width="2.4" stroke-dasharray="3.5 2"/><path d="M555.69,32.28 L556.14,32.26 L556.59,32.48 L557.04,32.01 L557.49,32.20 L557.93,32.10 L558.38,32.23 L558.83,32.20 L559.28,31.65 L559.73,32.02 L560.18,31.69 L560.63,31.66 L561.07,31.50 L561.52,31.67 L561.97,31.10 L562.42,31.39 L562.87,31.54 L563.32,31.10 L563.77,31.60 L564.22,30.84 L564.67,31.00 L565.12,30.75 L565.57,30.64 L566.02,30.45 L566.47,30.52 L566.92,30.57 L567.37,30.31 L567.82,30.66 L568.27,30.75 L568.72,29.92 L569.17,30.44 L569.62,30.20 L570.07,30.15 L570.52,30.64 L570.97,30.25 L571.42,29.97 L571.87,29.86 L572.32,29.21 L572.77,29.88 L573.22,29.43 L573.67,29.60 L574.12,29.51 L574.57,29.66 L575.03,29.87 L575.48,29.54 L575.93,29.55 L576.38,29.11 L576.83,29.22 L577.28,29.23 L577.73,28.62 L578.18,29.43 L578.64,28.68 L579.09,28.47 L579.54,29.14 L579.99,29.20 L580.44,28.44 L580.89,28.40 L581.35,29.27 L581.80,28.46 L582.25,27.88 L582.70,28.16 L583.15,28.76 L583.60,28.36 L584.06,28.33 L584.51,28.39 L584.96,28.20 L585.41,27.89 L585.86,27.52 L586.32,27.97 L586.77,27.53 L587.22,27.74 L587.67,28.13 L588.13,27.77 L588.58,27.60 L589.03,27.55 L589.48,27.66 L589.94,27.65 L590.39,27.04 L590.84,27.36 L591.29,27.69 L591.75,27.40 L592.20,26.97 L592.65,26.94 L593.10,26.54 L593.56,26.81 L594.01,27.36 L594.46,26.89 L594.92,26.64 L595.37,26.66 L595.82,26.73 L596.27,26.68 L596.73,26.57 L597.18,26.42 L597.63,26.72 L598.09,26.90 L598.54,26.32 L598.99,26.28 L599.45,26.66 L599.90,25.95 L600.35,26.13 L600.81,26.13 L601.26,26.22 L601.71,26.06 L602.16,25.87 L602.62,26.12 L603.07,25.70 L603.52,25.51 L603.98,25.40 L604.43,26.05 L604.89,25.38 L605.34,25.88 L605.79,25.89 L606.25,25.88 L606.70,25.60 L607.15,25.46 L607.61,25.57 L608.06,25.36 L608.51,25.14 L608.97,25.74 L609.42,25.16 L609.87,25.79 L610.33,25.43 L610.78,25.14 L611.24,25.32 L611.69,25.48 L612.14,24.79 L612.60,24.86 L613.05,24.79 L613.50,25.05 L613.96,25.07 L614.41,24.94 L614.87,24.71 L615.32,24.72 L615.77,25.11 L616.23,25.05 L616.68,24.76 L617.14,24.36 L617.59,24.81 L618.04,24.69 L618.50,24.64 L618.95,24.97 L619.41,24.71 L619.86,24.22 L620.31,24.18 L620.77,24.73 L621.22,24.40 L621.68,24.53 L622.13,24.25 L622.58,24.00 L623.04,24.28 L623.49,24.57 L623.95,24.23 L624.40,23.83 L624.86,24.00 L625.31,23.92 L625.76,24.05 L626.22,24.23 L626.67,24.43 L627.13,23.96 L627.58,23.76 L628.04,23.86 L628.49,23.81 L628.94,23.66 L629.40,23.74 L629.85,23.70 L630.31,23.37 L630.76,23.77 L631.22,23.51 L631.67,23.32 L632.12,23.66 L632.58,23.38 L633.03,23.90 L633.49,23.55 L633.94,23.42 L634.40,23.18 L634.85,23.23 L635.31,23.52 L635.76,23.10 L636.21,23.43 L636.67,22.68 L637.12,23.23 L637.58,23.35 L638.03,23.20 L638.49,23.08 L638.94,23.30 L639.40,22.81 L639.85,22.74 L640.31,22.98 L640.76,23.23 L641.22,23.01 L641.67,22.82 L642.12,22.91 L642.58,22.92 L643.03,22.47 L643.49,22.05 L643.94,22.46 L644.40,22.32 L644.85,22.52 L645.31,22.33 L645.76,22.39 L646.22,22.68 L646.67,22.57 L647.13,22.51 L647.58,22.91 L648.04,22.35 L648.49,22.34 L648.95,22.73 L649.40,22.10 L649.85,21.95 L650.31,22.65 L650.76,22.38 L651.22,22.42 L651.67,22.41 L652.13,22.45 L652.58,22.08 L653.04,22.15 L653.49,21.86 L653.95,22.15 L654.40,22.15 L654.86,21.95 L655.31,22.21 L655.77,22.75 L656.22,21.70 L656.68,22.17 L657.13,22.17 L657.59,22.18 L658.04,21.69 L658.50,22.16 L658.95,22.00 L659.41,21.78 L659.86,21.70 L660.32,21.83 L660.77,21.97 L661.23,21.94 L661.68,22.27 L662.14,21.58 L662.59,21.80 L663.05,21.51 L663.50,21.79 L663.96,21.61 L664.41,21.40 L664.87,21.20 L665.32,21.31 L665.78,21.54 L666.23,21.82 L666.69,21.63 L667.14,21.11 L667.60,21.26 L668.05,21.37 L668.51,21.30 L668.96,21.33 L669.42,21.48 L669.87,21.31 L670.33,21.06 L670.78,20.73 L671.24,21.10 L671.69,20.74 L672.15,21.09 L672.60,21.19 L673.06,20.75 L673.51,21.03 L673.97,20.95 L674.42,21.49 L674.88,21.10 L675.33,20.49 L675.79,21.05 L676.24,21.02 L676.70,20.84 L677.15,20.78 L677.61,21.00 L678.06,20.99 L678.52,20.91 L678.97,20.54 L679.43,20.70 L679.88,20.35 L680.34,20.34 L680.79,20.56 L681.25,20.41 L681.71,20.55 L682.16,21.25 L682.62,20.74 L683.07,20.37 L683.53,20.03 L683.98,20.34 L684.44,20.17 L684.89,19.96 L685.35,20.67 L685.80,20.35 L686.26,20.56 L686.71,21.20 L687.17,20.48 L687.62,20.42 L688.08,20.46 L688.53,20.28 L688.99,20.12 L689.44,20.26 L689.90,20.58 L690.35,20.21 L690.81,19.91 L691.26,19.93 L691.72,19.96 L692.18,20.20 L692.63,20.30 L693.09,20.29 L693.54,20.45 L694.00,20.08 L694.45,20.33 L694.91,20.18 L695.36,20.26 L695.82,19.61 L696.27,20.36 L696.73,19.65 L697.18,19.74 L697.64,20.20 L698.09,19.89 L698.55,20.41 L699.00,20.00 L699.46,19.68 L699.91,19.96 L700.37,19.81 L700.83,20.28 L701.28,20.28 L701.74,20.04 L702.19,19.74 L702.65,19.85 L703.10,20.07 L703.56,19.59 L704.01,19.58 L704.47,19.97 L704.92,19.93 L705.38,19.67 L705.83,19.64 L706.29,19.21 L706.74,19.97 L707.20,19.63 L707.66,19.29 L708.11,19.35 L708.57,19.39 L709.02,20.02 L709.48,19.76 L709.93,19.23 L710.39,20.02 L710.84,19.87 L711.30,19.26 L711.75,18.84 L712.21,19.73 L712.66,19.33 L713.12,19.43 L713.58,19.31 L714.03,19.75 L714.49,19.79 L714.94,19.60 L715.40,19.35 L715.85,19.44 L716.31,19.51 L716.76,18.95 L717.22,19.64 L717.67,19.23 L718.13,19.36 L718.58,19.32 L719.04,19.50 L719.50,19.52 L719.95,19.79 L720.41,19.14 L720.86,18.99 L721.32,19.23 L721.77,19.02 L722.23,19.39 L722.68,18.96 L723.14,19.18 L723.59,19.37 L724.05,19.37 L724.50,19.16 L724.96,19.44 L725.42,19.40 L725.87,18.64 L726.33,19.14 L726.78,19.08 L727.24,18.95 L727.69,18.85 L728.15,19.01 L728.60,19.08 L729.06,19.04 L729.51,19.30 L729.97,19.20 L730.43,18.79 L730.88,18.73 L731.34,19.12 L731.79,18.72 L732.25,18.92 L732.70,18.99 L733.16,19.11 L733.61,18.97 L734.07,19.19 L734.52,18.70 L734.98,18.97 L735.44,18.63 L735.89,18.83 L736.35,18.80 L736.80,18.53 L737.26,18.09 L737.71,18.97 L738.17,18.81 L738.62,18.74 L739.08,18.52 L739.53,18.60 L739.99,18.79 L740.45,18.67 L740.90,18.94 L741.36,18.67 L741.81,18.42 L742.27,18.77 L742.72,18.44 L743.18,18.64 L743.63,18.12 L744.09,18.48 L744.54,18.69 L745.00,18.38" stroke="#00f" stroke-width="2.7"/>
</g>
<g fill="none" stroke="#686868" stroke-width="1">
<rect x="445.5" y="6.5" width="300.0" height="236.0"/>
<path d="M445.5,242.5h3M745.5,242.5h-3"/><path d="M445.5,218.5h3M745.5,218.5h-3"/><path d="M445.5,195.5h3M745.5,195.5h-3"/><path d="M445.5,171.5h3M745.5,171.5h-3"/><path d="M445.5,147.5h3M745.5,147.5h-3"/><path d="M445.5,124.5h3M745.5,124.5h-3"/><path d="M445.5,100.5h3M745.5,100.5h-3"/><path d="M445.5,77.5h3M745.5,77.5h-3"/><path d="M445.5,53.5h3M745.5,53.5h-3"/><path d="M445.5,29.5h3M745.5,29.5h-3"/><path d="M445.5,6.5h3M745.5,6.5h-3"/><path d="M483.5,242.5v-3M483.5,6.5v3"/><path d="M523.5,242.5v-3M523.5,6.5v3"/><path d="M564.5,242.5v-3M564.5,6.5v3"/><path d="M604.5,242.5v-3M604.5,6.5v3"/><path d="M644.5,242.5v-3M644.5,6.5v3"/><path d="M685.5,242.5v-3M685.5,6.5v3"/><path d="M725.5,242.5v-3M725.5,6.5v3"/>
</g>
<g font-family="'Liberation Sans', Arial, sans-serif" font-size="9" fill="#262626" stroke="#262626" stroke-width="0.15">
<text x="441.0" y="246.1" text-anchor="end">35</text><text x="441.0" y="222.5" text-anchor="end">35.5</text><text x="441.0" y="198.9" text-anchor="end">36</text><text x="441.0" y="175.3" text-anchor="end">36.5</text><text x="441.0" y="151.7" text-anchor="end">37</text><text x="441.0" y="128.1" text-anchor="end">37.5</text><text x="441.0" y="104.5" text-anchor="end">38</text><text x="441.0" y="80.9" text-anchor="end">38.5</text><text x="441.0" y="57.3" text-anchor="end">39</text><text x="441.0" y="33.7" text-anchor="end">39.5</text><text x="441.0" y="10.1" text-anchor="end">40</text><text x="483.3" y="255.8" text-anchor="middle">2</text><text x="523.7" y="255.8" text-anchor="middle">4</text><text x="564.0" y="255.8" text-anchor="middle">6</text><text x="604.4" y="255.8" text-anchor="middle">8</text><text x="644.7" y="255.8" text-anchor="middle">10</text><text x="685.1" y="255.8" text-anchor="middle">12</text><text x="725.4" y="255.8" text-anchor="middle">14</text>
</g>
<rect x="551.5" y="161.5" width="194" height="80" fill="#fff" stroke="#6a6a6a" stroke-width="1"/>
<g font-family="'Liberation Sans', Arial, sans-serif" font-size="8.5" fill="#1a1a1a" stroke="#1a1a1a" stroke-width="0.22">
<path d="M553.5,171.0H581.5" stroke="#000" stroke-width="2.2"/><text x="583.5" y="172.4">SMS1546: <tspan font-family="'Liberation Serif', serif" font-size="8.5">&#951;</tspan><tspan font-size="6.8" dy="3.8">max</tspan><tspan dy="-3.8">=39.56 %; R</tspan><tspan font-size="6.8" dy="3.8">opt</tspan><tspan dy="-3.8">=7.5 k&#937;</tspan></text><path d="M553.5,186.0H581.5" stroke="#00f" stroke-width="2.2"/><text x="583.5" y="187.4">SMS7621: <tspan font-family="'Liberation Serif', serif" font-size="8.5">&#951;</tspan><tspan font-size="6.8" dy="3.8">max</tspan><tspan dy="-3.8">=39.59 %; R</tspan><tspan font-size="6.8" dy="3.8">opt</tspan><tspan dy="-3.8">=14.08 k&#937;</tspan></text><path d="M553.5,201.3H581.5" stroke="#f00" stroke-width="2.2"/><text x="583.5" y="202.7">SMS 7630: <tspan font-family="'Liberation Serif', serif" font-size="8.5">&#951;</tspan><tspan font-size="6.8" dy="3.8">max</tspan><tspan dy="-3.8">=39.49 %; R</tspan><tspan font-size="6.8" dy="3.8">opt</tspan><tspan dy="-3.8">=14.62 k&#937;</tspan></text><path d="M553.5,217.0H581.5" stroke="#000" stroke-width="2.2" stroke-dasharray="6.3 4.5"/><text x="583.5" y="218.4">MA4E1317: <tspan font-family="'Liberation Serif', serif" font-size="8.5">&#951;</tspan><tspan font-size="6.8" dy="3.8">max</tspan><tspan dy="-3.8">=39.23 %; R</tspan><tspan font-size="6.8" dy="3.8">opt</tspan><tspan dy="-3.8">=12.67 k&#937;</tspan></text><path d="M553.5,232.5H581.5" stroke="#00f" stroke-width="2.2" stroke-dasharray="6.3 4.5"/><text x="583.5" y="233.9">MA4E2054: <tspan font-family="'Liberation Serif', serif" font-size="8.5">&#951;</tspan><tspan font-size="6.8" dy="3.8">max</tspan><tspan dy="-3.8">=39.76 %; R</tspan><tspan font-size="6.8" dy="3.8">opt</tspan><tspan dy="-3.8">=13.71 k&#937;</tspan></text>
</g>
<text x="579.5" y="269.5" font-family="'Liberation Sans', Arial, sans-serif" font-size="10" fill="#262626" stroke="#262626" stroke-width="0.15">R<tspan font-size="8" dy="4">L</tspan><tspan dy="-4">(k&#937;)</tspan></text>
<text transform="translate(414,149) rotate(-90)" font-family="'Liberation Sans', Arial, sans-serif" font-size="10" fill="#262626" stroke="#262626" stroke-width="0.15"><tspan font-family="'Liberation Serif', serif" font-style="italic" font-size="11.5" dy="2.5">&#951;</tspan><tspan font-size="8" dy="1.8">RF/DC</tspan><tspan dy="-4.3"> (%)</tspan></text>
<text x="577" y="307.4" font-family="'Liberation Serif', serif" font-size="18.5" fill="#000">(<tspan font-weight="bold">b</tspan>)</text>
</svg>
</body></html>
